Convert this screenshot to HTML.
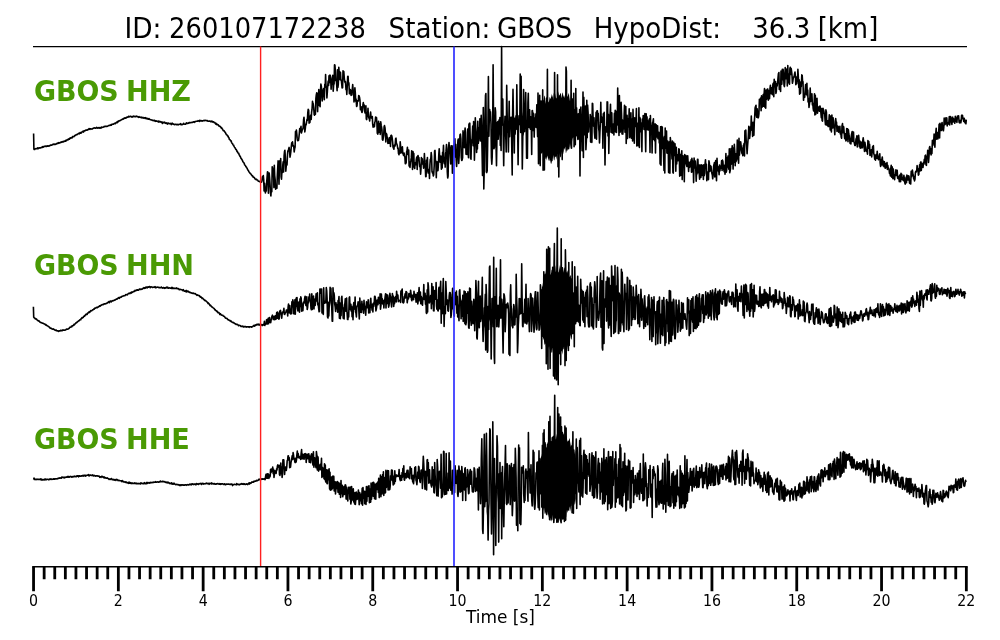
<!DOCTYPE html>
<html><head><meta charset="utf-8"><title>GBOS</title>
<style>
html,body{margin:0;padding:0;background:#fff;}
svg{display:block;}
text{font-family:"DejaVu Sans","Liberation Sans",sans-serif;fill:#000;}
.ti{font-size:28.3px;}
.lab{font-weight:bold;fill:#4a9a04;font-size:29px;}
</style></head>
<body>
<svg width="1000" height="640" viewBox="0 0 1000 640">
<rect width="1000" height="640" fill="#fff"/>
<g class="ti"><text transform="translate(124.5,37.5) scale(0.933,1)">ID:</text><text transform="translate(169.1,37.5) scale(0.911,1)">260107172238</text><text transform="translate(388.55,37.5) scale(0.925,1)">Station:</text><text transform="translate(496.9,37.5) scale(0.929,1)">GBOS</text><text transform="translate(593.7,37.5) scale(0.92,1)">HypoDist:</text><text transform="translate(752.2,37.5) scale(0.922,1)">36.3</text><text transform="translate(817.7,37.5) scale(0.918,1)">[km]</text></g>
<line x1="33" y1="46.6" x2="967" y2="46.6" stroke="#000" stroke-width="1.4"/>
<g fill="#000"><polygon points="540.0,107.2 540.6,106.7 541.2,103.4 541.8,100.8 542.4,98.1 543.0,100.5 543.6,100.1 544.2,96.2 544.8,95.6 545.4,103.9 546.0,100.5 546.6,96.6 547.2,98.2 547.8,102.8 548.4,101.9 549.0,101.3 549.6,97.0 550.2,97.7 550.8,99.2 551.4,93.4 552.0,97.6 552.6,94.8 553.2,100.0 553.8,92.5 554.4,97.8 555.0,99.2 555.6,93.2 556.2,99.1 556.8,98.8 557.4,91.2 558.0,97.4 558.6,91.0 559.2,95.5 559.8,94.9 560.4,92.8 561.0,93.9 561.6,98.3 562.2,93.8 562.8,92.3 563.4,97.3 564.0,95.0 564.6,98.2 565.2,93.2 565.8,94.2 566.4,98.8 567.0,96.4 567.6,96.6 568.2,94.4 568.8,92.7 569.4,101.2 570.0,93.8 570.6,101.5 571.2,98.1 571.8,104.3 572.4,100.2 573.0,105.9 573.6,103.4 573.6,138.4 573.0,137.5 572.4,138.9 571.8,143.3 571.2,142.7 570.6,148.9 570.0,143.0 569.4,147.5 568.8,147.4 568.2,145.8 567.6,148.7 567.0,145.7 566.4,152.3 565.8,153.1 565.2,146.5 564.6,149.9 564.0,148.1 563.4,154.5 562.8,149.2 562.2,156.8 561.6,151.2 561.0,157.0 560.4,157.5 559.8,155.1 559.2,153.6 558.6,150.3 558.0,154.3 557.4,153.9 556.8,160.1 556.2,156.2 555.6,157.2 555.0,156.2 554.4,160.6 553.8,159.7 553.2,155.1 552.6,161.3 552.0,160.9 551.4,163.7 550.8,163.4 550.2,160.2 549.6,161.0 549.0,157.8 548.4,161.3 547.8,157.4 547.2,155.5 546.6,160.7 546.0,156.7 545.4,158.9 544.8,158.9 544.2,152.7 543.6,156.5 543.0,151.8 542.4,153.0 541.8,154.0 541.2,153.0 540.6,152.6 540.0,147.2"/><polygon points="542.0,287.2 542.6,285.5 543.2,281.0 543.8,277.2 544.4,273.3 545.0,274.5 545.6,272.9 546.2,268.3 546.8,268.1 547.4,276.5 548.0,273.1 548.6,269.2 549.2,270.8 549.8,275.4 550.4,274.5 551.0,273.8 551.6,269.5 552.2,270.2 552.8,271.6 553.4,265.9 554.0,270.1 554.6,267.3 555.2,272.6 555.8,265.0 556.4,270.3 557.0,271.8 557.6,266.2 558.2,272.3 558.8,272.2 559.4,264.7 560.0,271.0 560.6,264.8 561.2,269.5 561.8,269.0 562.4,267.0 563.0,268.3 563.6,272.7 564.2,268.4 564.8,267.1 565.4,272.2 566.0,270.0 566.6,274.3 567.2,270.3 567.8,272.2 568.4,277.6 569.0,276.1 569.6,277.2 570.2,275.8 570.8,274.9 571.4,284.3 572.0,277.8 572.0,338.5 571.4,340.1 570.8,334.5 570.2,338.8 569.6,338.0 569.0,345.4 568.4,341.1 567.8,349.7 567.2,345.1 566.6,351.9 566.0,353.4 565.4,350.9 564.8,349.2 564.2,345.6 563.6,349.4 563.0,348.9 562.4,354.8 561.8,350.7 561.2,351.6 560.6,350.4 560.0,354.6 559.4,353.6 558.8,348.8 558.2,354.9 557.6,354.3 557.0,356.9 556.4,356.2 555.8,353.0 555.2,353.6 554.6,350.3 554.0,353.8 553.4,349.9 552.8,347.8 552.2,353.0 551.6,348.9 551.0,351.0 550.4,351.2 549.8,345.7 549.2,350.2 548.6,346.2 548.0,348.1 547.4,349.8 546.8,349.4 546.2,349.8 545.6,343.6 545.0,344.0 544.4,345.0 543.8,337.8 543.2,340.4 542.6,332.7 542.0,334.6"/><polygon points="541.0,457.2 541.6,456.1 542.2,452.2 542.8,449.0 543.4,445.7 544.0,447.5 544.6,446.5 545.2,442.2 545.8,441.8 546.4,449.8 547.0,446.2 547.6,441.9 548.2,443.2 548.8,447.5 549.4,446.3 550.0,445.3 550.6,440.7 551.2,441.1 551.8,442.3 552.4,436.1 553.0,440.0 553.6,436.8 554.2,441.7 554.8,433.8 555.4,438.7 556.0,439.8 556.6,433.4 557.2,438.9 557.8,438.0 558.4,430.3 559.0,436.7 559.6,430.5 560.2,435.2 560.8,434.7 561.4,432.8 562.0,434.1 562.6,438.6 563.2,434.3 563.8,433.0 564.4,438.1 565.0,436.0 565.6,439.9 566.2,435.6 566.8,437.0 567.4,442.1 568.0,440.2 568.6,440.9 569.2,439.2 569.8,437.9 570.4,447.2 571.0,440.8 571.6,448.8 572.2,445.7 572.8,452.2 573.4,448.4 574.0,454.4 574.6,452.2 575.2,450.6 575.8,456.3 575.8,498.7 575.2,503.5 574.6,504.9 574.0,500.7 573.4,500.5 572.8,499.9 572.2,501.5 571.6,506.1 571.0,505.7 570.4,512.0 569.8,506.2 569.2,510.9 568.6,511.1 568.0,509.7 567.4,512.9 566.8,510.1 566.2,517.0 565.6,518.0 565.0,511.7 564.4,515.0 563.8,513.1 563.2,519.4 562.6,514.1 562.0,521.6 561.4,516.0 560.8,521.7 560.2,522.2 559.6,519.8 559.0,518.2 558.4,514.8 557.8,518.6 557.2,517.6 556.6,523.2 556.0,518.6 555.4,519.1 554.8,517.5 554.2,521.4 553.6,519.9 553.0,514.7 552.4,520.4 551.8,519.4 551.2,521.4 550.6,520.5 550.0,517.1 549.4,517.6 548.8,514.1 548.2,517.5 547.6,513.4 547.0,511.2 546.4,516.2 545.8,512.0 545.2,513.9 544.6,513.5 544.0,507.2 543.4,511.0 542.8,506.1 542.2,507.3 541.6,508.2 541.0,507.1"/></g>
<g fill="none" stroke="#000" stroke-width="1.6" stroke-linejoin="round">
<path d="M33.6 133.6L33.9 149.2L34.3 149.5L34.7 149.4L35.2 148.8L35.6 148.7L36.0 148.6L36.4 148.8L36.9 148.5L37.3 148.7L37.7 147.8L38.1 148.7L38.6 148.1L39.0 148.3L39.4 147.9L39.8 147.8L40.3 147.9L40.7 147.9L41.1 147.5L41.5 147.4L42.0 147.6L42.4 147.0L42.8 146.7L43.2 147.2L43.7 146.8L44.1 146.3L44.5 146.5L44.9 146.5L45.3 146.2L45.8 146.0L46.2 146.4L46.6 146.5L47.0 146.1L47.5 145.8L47.9 146.1L48.3 146.1L48.7 145.7L49.2 145.8L49.6 145.9L50.0 145.4L50.4 145.1L50.9 145.3L51.3 145.2L51.7 145.3L52.1 144.5L52.6 144.6L53.0 144.4L53.4 144.0L53.8 144.5L54.3 144.5L54.7 144.0L55.1 144.5L55.5 144.2L55.9 144.0L56.4 143.8L56.8 143.9L57.2 143.1L57.6 143.5L58.1 143.4L58.5 142.6L58.9 143.1L59.3 142.8L59.8 142.9L60.2 142.4L60.6 142.4L61.0 142.4L61.5 141.9L61.9 142.2L62.3 141.8L62.7 141.9L63.2 141.4L63.6 141.8L64.0 141.5L64.4 141.1L64.9 141.1L65.3 141.2L65.7 141.2L66.1 140.0L66.5 140.5L67.0 140.2L67.4 139.9L67.8 139.4L68.2 139.8L68.7 138.9L69.1 139.2L69.5 139.2L69.9 138.1L70.4 138.2L70.8 137.7L71.2 137.9L71.6 138.0L72.1 137.9L72.5 136.5L72.9 136.6L73.3 136.8L73.8 136.8L74.2 136.2L74.6 135.6L75.0 135.7L75.5 135.3L75.9 135.0L76.3 134.6L76.7 134.8L77.1 134.5L77.6 134.2L78.0 133.9L78.4 133.4L78.8 133.5L79.3 133.8L79.7 133.1L80.1 132.5L80.5 133.2L81.0 132.7L81.4 133.0L81.8 132.2L82.2 131.8L82.7 131.3L83.1 131.9L83.5 132.1L83.9 130.9L84.4 130.8L84.8 131.0L85.2 130.3L85.6 130.3L86.1 130.1L86.5 130.1L86.9 130.3L87.3 129.8L87.7 129.9L88.2 129.4L88.6 129.5L89.0 128.6L89.4 128.7L89.9 129.3L90.3 128.8L90.7 129.0L91.1 128.9L91.6 129.1L92.0 128.9L92.4 128.9L92.8 128.4L93.3 128.2L93.7 128.1L94.1 128.2L94.5 127.9L95.0 128.0L95.4 128.1L95.8 128.2L96.2 127.9L96.7 127.4L97.1 127.9L97.5 128.0L97.9 128.2L98.3 128.0L98.8 127.5L99.2 127.5L99.6 128.2L100.0 127.8L100.5 128.0L100.9 128.1L101.3 127.1L101.7 127.4L102.2 127.4L102.6 127.3L103.0 127.2L103.4 127.0L103.9 126.9L104.3 126.3L104.7 126.6L105.1 126.4L105.6 126.5L106.0 126.3L106.4 126.5L106.8 126.4L107.3 126.2L107.7 126.1L108.1 125.9L108.5 125.6L108.9 125.6L109.4 125.3L109.8 125.5L110.2 125.2L110.6 125.3L111.1 124.5L111.5 125.1L111.9 124.4L112.3 124.3L112.8 124.3L113.2 124.0L113.6 124.1L114.0 123.7L114.5 123.4L114.9 123.3L115.3 123.7L115.7 123.1L116.2 122.5L116.6 122.6L117.0 121.9L117.4 122.6L117.9 121.3L118.3 121.7L118.7 121.4L119.1 120.6L119.5 120.8L120.0 120.8L120.4 120.4L120.8 120.1L121.2 120.0L121.7 119.6L122.1 119.5L122.5 119.1L122.9 119.2L123.4 118.5L123.8 118.8L124.2 118.2L124.6 117.9L125.1 118.1L125.5 118.3L125.9 118.0L126.3 117.4L126.8 117.6L127.2 117.1L127.6 117.1L128.0 117.1L128.5 116.3L128.9 117.0L129.3 116.6L129.7 116.6L130.1 116.3L130.6 116.3L131.0 116.4L131.4 116.9L131.8 117.1L132.3 116.6L132.7 116.9L133.1 116.5L133.5 116.0L134.0 116.6L134.4 116.6L134.8 116.4L135.2 116.6L135.7 116.7L136.1 116.3L136.5 116.1L136.9 116.5L137.4 116.6L137.8 116.6L138.2 117.0L138.6 117.3L139.1 116.7L139.5 117.1L139.9 117.3L140.3 117.3L140.7 117.5L141.2 117.1L141.6 117.5L142.0 118.0L142.4 117.7L142.9 117.3L143.3 117.8L143.7 118.1L144.1 117.9L144.6 117.7L145.0 118.5L145.4 117.7L145.8 118.4L146.3 118.3L146.7 118.1L147.1 119.0L147.5 118.8L148.0 118.5L148.4 119.2L148.8 119.0L149.2 118.7L149.7 119.2L150.1 119.6L150.5 119.8L150.9 119.8L151.3 119.9L151.8 120.1L152.2 120.0L152.6 120.5L153.0 120.3L153.5 120.5L153.9 120.7L154.3 120.3L154.7 120.5L155.2 121.3L155.6 121.0L156.0 120.9L156.4 121.2L156.9 121.1L157.3 121.4L157.7 121.2L158.1 121.6L158.6 121.1L159.0 122.1L159.4 121.6L159.8 121.4L160.3 121.9L160.7 121.9L161.1 122.2L161.5 121.9L161.9 122.4L162.4 123.5L162.8 122.1L163.2 122.6L163.6 122.5L164.1 122.8L164.5 122.2L164.9 122.5L165.3 123.1L165.8 123.0L166.2 123.5L166.6 122.9L167.0 123.2L167.5 124.1L167.9 123.1L168.3 123.1L168.7 123.4L169.2 123.5L169.6 123.8L170.0 123.6L170.4 123.4L170.9 123.8L171.3 124.6L171.7 124.2L172.1 123.0L172.5 123.9L173.0 123.7L173.4 124.2L173.8 124.0L174.2 124.7L174.7 124.5L175.1 124.5L175.5 124.3L175.9 124.3L176.4 124.5L176.8 124.8L177.2 124.6L177.6 124.3L178.1 124.8L178.5 124.5L178.9 124.5L179.3 124.3L179.8 124.3L180.2 124.3L180.6 123.6L181.0 124.7L181.5 124.6L181.9 124.3L182.3 124.6L182.7 124.4L183.1 124.3L183.6 123.3L184.0 123.9L184.4 124.1L184.8 124.3L185.3 124.3L185.7 124.1L186.1 123.2L186.5 122.8L187.0 123.5L187.4 123.3L187.8 123.5L188.2 123.0L188.7 123.1L189.1 122.5L189.5 123.0L189.9 122.6L190.4 122.8L190.8 122.7L191.2 122.5L191.6 122.5L192.1 122.3L192.5 122.4L192.9 122.3L193.3 121.9L193.7 121.7L194.2 122.3L194.6 121.7L195.0 121.9L195.4 121.7L195.9 121.3L196.3 121.2L196.7 121.3L197.1 121.3L197.6 121.3L198.0 120.7L198.4 120.9L198.8 121.0L199.3 121.4L199.7 120.2L200.1 121.0L200.5 120.6L201.0 120.9L201.4 120.6L201.8 120.8L202.2 121.1L202.7 120.7L203.1 120.7L203.5 120.7L203.9 120.3L204.3 120.7L204.8 120.4L205.2 120.3L205.6 120.5L206.0 120.5L206.5 120.8L206.9 120.6L207.3 120.5L207.7 121.2L208.2 121.1L208.6 121.3L209.0 121.1L209.4 121.0L209.9 121.0L210.3 121.2L210.7 121.7L211.1 121.5L211.6 121.1L212.0 121.7L212.4 121.4L212.8 122.1L213.3 121.8L213.7 122.0L214.1 122.6L214.5 122.8L214.9 122.5L215.4 123.5L215.8 124.2L216.2 123.4L216.6 124.6L217.1 124.2L217.5 124.5L217.9 124.9L218.3 124.8L218.8 126.0L219.2 126.1L219.6 126.0L220.0 126.6L220.5 126.6L220.9 127.4L221.3 128.2L221.7 127.8L222.2 128.7L222.6 129.3L223.0 130.1L223.4 130.7L223.9 130.6L224.3 131.0L224.7 131.9L225.1 132.2L225.5 132.8L226.0 133.8L226.4 134.6L226.8 134.8L227.2 135.3L227.7 136.2L228.1 136.1L228.5 137.4L228.9 137.7L229.4 139.4L229.8 139.6L230.2 140.1L230.6 140.7L231.1 140.7L231.5 142.3L231.9 143.2L232.3 143.2L232.8 144.3L233.2 145.0L233.6 145.0L234.0 146.4L234.5 147.2L234.9 147.6L235.3 148.2L235.7 149.2L236.1 149.2L236.6 150.4L237.0 151.4L237.4 151.4L237.8 152.8L238.3 153.1L238.7 153.3L239.1 154.7L239.5 155.2L240.0 156.3L240.4 156.6L240.8 158.0L241.2 158.3L241.7 159.3L242.1 159.8L242.5 160.6L242.9 161.8L243.4 162.3L243.8 162.8L244.2 163.3L244.6 164.7L245.1 165.3L245.5 165.7L245.9 166.6L246.3 167.0L246.7 167.7L247.2 168.5L247.6 169.5L248.0 170.2L248.4 170.6L248.9 171.6L249.3 172.3L249.7 172.7L250.1 173.5L250.6 173.6L251.0 174.2L251.4 174.9L251.8 175.3L252.3 176.0L252.7 175.9L253.1 177.1L253.5 176.9L254.0 177.5L254.4 177.6L254.8 178.5L255.2 179.1L255.7 179.3L256.1 179.6L256.5 179.2L256.9 179.8L257.3 180.1L257.8 180.3L258.2 181.2L258.6 181.2L259.0 181.3L259.5 181.7L259.9 181.5L260.3 181.7L260.7 181.7L261.2 182.1L261.6 182.1L262.0 180.6L262.4 176.8L262.9 177.5L263.3 175.5L263.7 179.6L264.1 190.9L264.6 183.2L265.0 188.4L265.4 192.9L265.8 189.4L266.3 191.0L266.7 182.1L267.1 177.1L267.5 171.8L267.9 172.3L268.4 193.3L268.8 174.8L269.2 173.1L269.6 177.8L270.1 185.4L270.5 193.2L270.9 195.9L271.3 189.2L271.8 191.8L272.2 166.8L272.6 168.2L273.0 172.6L273.5 170.0L273.9 187.6L274.3 165.3L274.7 175.6L275.2 180.1L275.6 189.3L276.0 187.0L276.4 186.7L276.9 188.2L277.3 176.2L277.7 168.3L278.1 160.7L278.5 166.9L279.0 184.3L279.4 165.9L279.8 160.8L280.2 166.9L280.7 158.5L281.1 176.8L281.5 179.2L281.9 171.5L282.4 172.5L282.8 165.2L283.2 161.7L283.6 172.0L284.1 155.9L284.5 151.6L284.9 150.3L285.3 156.3L285.8 171.1L286.2 166.5L286.6 162.2L287.0 164.9L287.5 154.7L287.9 150.7L288.3 151.0L288.7 148.8L289.1 147.4L289.6 151.5L290.0 157.1L290.4 154.9L290.8 151.8L291.3 146.6L291.7 142.8L292.1 144.4L292.5 141.8L293.0 146.1L293.4 145.6L293.8 147.1L294.2 152.0L294.7 148.5L295.1 147.1L295.5 131.6L295.9 132.2L296.4 130.0L296.8 133.9L297.2 138.4L297.6 140.6L298.1 139.9L298.5 140.5L298.9 137.5L299.3 133.6L299.7 128.5L300.2 131.6L300.6 129.0L301.0 126.4L301.4 132.9L301.9 131.3L302.3 129.6L302.7 129.2L303.1 128.0L303.6 119.6L304.0 117.2L304.4 123.3L304.8 131.9L305.3 128.6L305.7 124.3L306.1 124.8L306.5 122.6L307.0 119.3L307.4 120.2L307.8 112.6L308.2 109.3L308.7 110.4L309.1 123.2L309.5 120.9L309.9 122.5L310.3 116.4L310.8 115.0L311.2 119.4L311.6 112.2L312.0 109.7L312.5 101.3L312.9 103.3L313.3 104.6L313.7 107.8L314.2 114.6L314.6 115.2L315.0 113.1L315.4 114.3L315.9 98.3L316.3 94.8L316.7 92.8L317.1 93.3L317.6 111.6L318.0 99.4L318.4 100.7L318.8 89.6L319.3 105.4L319.7 101.2L320.1 106.7L320.5 90.7L320.9 84.1L321.4 86.7L321.8 95.1L322.2 101.0L322.6 95.5L323.1 90.3L323.5 88.6L323.9 91.4L324.3 99.6L324.8 84.2L325.2 87.3L325.6 74.5L326.0 86.4L326.5 86.3L326.9 97.9L327.3 92.7L327.7 86.0L328.2 81.0L328.6 85.5L329.0 75.9L329.4 82.7L329.9 75.1L330.3 75.6L330.7 78.3L331.1 89.2L331.5 81.9L332.0 83.9L332.4 78.2L332.8 75.4L333.2 91.3L333.7 84.2L334.1 84.1L334.5 64.9L334.9 65.0L335.4 71.2L335.8 80.8L336.2 80.0L336.6 83.6L337.1 90.7L337.5 69.8L337.9 87.5L338.3 84.4L338.8 67.3L339.2 73.0L339.6 71.6L340.0 79.7L340.5 72.6L340.9 80.3L341.3 80.0L341.7 83.8L342.1 87.9L342.6 87.8L343.0 70.7L343.4 74.8L343.8 71.5L344.3 78.3L344.7 81.6L345.1 82.5L345.5 81.7L346.0 89.8L346.4 88.0L346.8 94.4L347.2 87.0L347.7 76.5L348.1 76.3L348.5 84.8L348.9 82.8L349.4 93.7L349.8 93.6L350.2 89.6L350.6 90.0L351.1 95.4L351.5 94.6L351.9 94.8L352.3 89.0L352.7 84.6L353.2 91.1L353.6 90.7L354.0 102.0L354.4 93.9L354.9 87.7L355.3 92.6L355.7 101.1L356.1 99.1L356.6 106.5L357.0 105.9L357.4 100.7L357.8 100.9L358.3 101.0L358.7 95.5L359.1 95.9L359.5 97.2L360.0 100.7L360.4 109.8L360.8 108.5L361.2 106.8L361.7 111.9L362.1 112.4L362.5 111.0L362.9 105.2L363.3 102.5L363.8 106.0L364.2 105.0L364.6 109.6L365.0 112.9L365.5 111.8L365.9 105.8L366.3 119.0L366.7 119.6L367.2 112.5L367.6 115.5L368.0 108.4L368.4 116.2L368.9 118.0L369.3 118.7L369.7 121.0L370.1 116.0L370.6 112.1L371.0 116.5L371.4 117.9L371.8 118.3L372.3 116.6L372.7 124.2L373.1 127.2L373.5 126.1L373.9 124.6L374.4 126.8L374.8 122.4L375.2 121.3L375.6 117.0L376.1 120.4L376.5 117.6L376.9 122.6L377.3 133.2L377.8 134.2L378.2 132.2L378.6 121.4L379.0 132.1L379.5 127.6L379.9 123.7L380.3 134.4L380.7 121.7L381.2 125.4L381.6 127.4L382.0 130.2L382.4 139.5L382.9 140.2L383.3 137.7L383.7 135.4L384.1 126.8L384.5 125.6L385.0 127.9L385.4 132.5L385.8 141.9L386.2 133.4L386.7 134.1L387.1 137.5L387.5 137.4L387.9 143.4L388.4 139.7L388.8 139.2L389.2 143.3L389.6 137.5L390.1 138.2L390.5 146.5L390.9 135.6L391.3 135.2L391.8 136.0L392.2 138.2L392.6 141.8L393.0 146.9L393.5 148.2L393.9 149.2L394.3 145.4L394.7 146.3L395.1 145.9L395.6 138.7L396.0 138.2L396.4 143.3L396.8 143.9L397.3 145.5L397.7 148.3L398.1 148.0L398.5 153.5L399.0 154.7L399.4 151.3L399.8 153.3L400.2 141.8L400.7 147.5L401.1 153.0L401.5 147.7L401.9 149.9L402.4 146.7L402.8 153.3L403.2 154.0L403.6 155.5L404.1 153.1L404.5 155.4L404.9 157.1L405.3 163.8L405.7 163.7L406.2 162.5L406.6 152.1L407.0 150.8L407.4 147.4L407.9 154.5L408.3 154.3L408.7 150.1L409.1 166.1L409.6 162.8L410.0 167.4L410.4 162.5L410.8 160.7L411.3 157.9L411.7 150.9L412.1 154.2L412.5 169.4L413.0 151.5L413.4 154.9L413.8 153.6L414.2 167.2L414.7 168.5L415.1 162.8L415.5 162.8L415.9 164.6L416.3 159.4L416.8 157.0L417.2 169.4L417.6 157.5L418.0 155.5L418.5 158.0L418.9 157.6L419.3 162.6L419.7 166.7L420.2 165.2L420.6 174.1L421.0 168.8L421.4 157.5L421.9 162.7L422.3 158.9L422.7 164.1L423.1 162.9L423.6 168.2L424.0 163.9L424.4 153.5L424.8 162.4L425.3 167.5L425.7 176.6L426.1 176.6L426.5 160.0L426.9 164.6L427.4 157.5L427.8 171.1L428.2 173.0L428.6 171.8L429.1 169.2L429.5 178.4L429.9 165.1L430.3 159.4L430.8 159.0L431.2 152.6L431.6 156.2L432.0 171.5L432.5 172.9L432.9 172.3L433.3 175.9L433.7 174.7L434.2 165.9L434.6 151.0L435.0 150.4L435.4 159.8L435.9 161.7L436.3 177.8L436.7 162.3L437.1 161.9L437.5 170.8L438.0 170.5L438.4 164.3L438.8 154.2L439.2 148.9L439.7 156.7L440.1 162.1L440.5 162.1L440.9 156.0L441.4 169.2L441.8 156.8L442.2 167.9L442.6 152.2L443.1 153.8L443.5 145.4L443.9 161.3L444.3 163.6L444.8 157.4L445.2 167.1L445.6 153.7L446.0 151.4L446.5 144.5L446.9 149.4L447.3 171.9L447.7 178.0L448.1 176.1L448.6 148.0L449.0 142.5L449.4 149.0L449.8 147.4L450.3 157.3L450.7 163.9L451.1 145.8L451.5 152.9L452.0 145.9L452.4 173.3L452.8 160.4L453.2 153.9L453.7 145.2L454.1 147.8L454.5 141.7L454.9 138.7L455.4 157.1L455.8 144.3L456.2 159.7L456.6 166.4L457.1 157.5L457.5 150.4L457.9 140.7L458.3 139.0L458.7 163.5L459.2 155.4L459.6 142.1L460.0 134.7L460.4 134.2L460.9 138.9L461.3 157.4L461.7 160.5L462.1 160.2L462.6 157.6L463.0 130.9L463.4 136.3L463.8 140.4L464.3 147.7L464.7 132.7L465.1 128.0L465.5 132.3L466.0 154.2L466.4 145.2L466.8 154.5L467.2 153.8L467.7 129.0L468.1 151.3L468.5 157.7L468.9 124.5L469.3 123.5L469.8 123.2L470.2 138.6L470.6 158.4L471.0 159.2L471.5 139.7L471.9 142.6L472.3 135.2L472.7 126.1L473.2 145.8L473.6 121.6L474.0 128.6L474.4 160.3L474.9 143.3L475.3 117.8L475.7 127.4L476.1 132.4L476.6 152.5L477.0 141.6L477.4 149.0L477.8 121.3L478.3 143.3L478.7 139.4L479.1 127.6L479.5 137.4L479.9 118.8L480.4 141.0L480.8 131.9L481.2 115.4L481.6 128.9L482.1 153.2L482.5 175.4L482.9 141.5L483.3 107.6L483.8 189.0L484.2 171.2L484.6 172.1L485.0 119.3L485.5 95.4L485.9 93.5L486.3 139.1L486.7 172.6L487.2 170.8L487.6 149.0L488.0 122.2L488.4 76.5L488.9 136.3L489.3 117.6L489.7 109.5L490.1 115.4L490.5 111.9L491.0 124.1L491.4 157.5L491.8 164.3L492.2 156.9L492.7 128.4L493.1 64.7L493.5 116.5L493.9 148.8L494.4 147.4L494.8 138.0L495.2 107.8L495.6 111.9L496.1 148.7L496.5 165.7L496.9 139.9L497.3 122.5L497.8 121.6L498.2 139.3L498.6 133.1L499.0 120.1L499.5 132.6L499.9 117.5L500.3 145.5L500.7 138.8L501.1 150.5L501.6 46.5L502.0 125.1L502.4 101.8L502.8 99.1L503.3 139.7L503.7 165.8L504.1 137.4L504.5 129.7L505.0 116.2L505.4 117.6L505.8 137.8L506.2 152.0L506.7 85.4L507.1 111.5L507.5 132.2L507.9 125.8L508.4 152.0L508.8 126.5L509.2 101.3L509.6 136.8L510.1 122.4L510.5 123.4L510.9 117.3L511.3 117.4L511.7 144.1L512.2 175.0L512.6 114.8L513.0 89.4L513.4 115.6L513.9 125.4L514.3 152.9L514.7 118.3L515.1 134.1L515.6 124.2L516.0 115.9L516.4 129.1L516.8 84.7L517.3 123.6L517.7 130.6L518.1 164.7L518.5 127.8L519.0 115.9L519.4 116.3L519.8 124.5L520.2 74.0L520.7 132.4L521.1 76.2L521.5 111.8L521.9 119.2L522.3 168.9L522.8 136.0L523.2 133.8L523.6 89.5L524.0 114.6L524.5 131.6L524.9 122.1L525.3 108.7L525.7 92.5L526.2 125.3L526.6 158.2L527.0 156.3L527.4 158.3L527.9 103.0L528.3 93.3L528.7 120.1L529.1 127.4L529.6 109.7L530.0 126.8L530.4 129.1L530.8 116.8L531.3 125.5L531.7 154.5L532.1 110.7L532.5 110.6L532.9 130.4L533.4 113.3L533.8 114.6L534.2 137.1L534.6 120.5L535.1 117.9L535.5 126.9L535.9 113.8L536.3 127.5L536.8 104.8L537.2 122.3L537.6 136.6L538.0 93.0L538.5 163.7L538.9 122.1L539.3 146.3L539.7 95.4L540.2 165.6L540.6 117.9L541.0 101.0L541.4 142.0L541.9 124.9L542.3 132.2L542.7 89.9L543.1 170.2L543.5 112.0L544.0 112.1L544.4 169.9L544.8 116.3L545.2 112.0L545.7 145.8L546.1 144.1L546.5 98.3L546.9 147.2L547.4 69.4L547.8 152.3L548.2 105.6L548.6 130.0L549.1 157.2L549.5 118.7L549.9 113.7L550.3 135.5L550.8 149.0L551.2 121.4L551.6 102.8L552.0 150.3L552.5 150.1L552.9 105.7L553.3 116.9L553.7 146.1L554.1 150.7L554.6 72.6L555.0 138.6L555.4 148.6L555.8 98.7L556.3 114.2L556.7 146.4L557.1 150.5L557.5 74.8L558.0 166.8L558.4 103.4L558.8 177.0L559.2 142.1L559.7 105.3L560.1 97.6L560.5 141.4L560.9 126.7L561.4 110.5L561.8 111.8L562.2 159.6L562.6 106.4L563.1 131.1L563.5 128.1L563.9 137.3L564.3 100.4L564.7 128.8L565.2 101.8L565.6 134.0L566.0 67.0L566.4 71.3L566.9 150.0L567.3 142.1L567.7 102.8L568.1 127.8L568.6 148.8L569.0 101.7L569.4 140.2L569.8 113.2L570.3 116.7L570.7 140.7L571.1 80.3L571.5 148.3L572.0 98.8L572.4 126.6L572.8 131.2L573.2 136.2L573.7 93.2L574.1 146.7L574.5 112.0L574.9 109.9L575.3 144.7L575.8 88.5L576.2 135.8L576.6 107.9L577.0 125.5L577.5 134.7L577.9 139.5L578.3 113.8L578.7 131.0L579.2 138.6L579.6 109.5L580.0 176.0L580.4 115.3L580.9 107.0L581.3 120.5L581.7 136.3L582.1 150.8L582.6 125.7L583.0 92.0L583.4 157.5L583.8 97.2L584.3 119.6L584.7 113.1L585.1 135.0L585.5 106.1L585.9 149.7L586.4 139.6L586.8 100.4L587.2 137.8L587.6 105.1L588.1 113.2L588.5 132.0L588.9 124.4L589.3 124.2L589.8 126.4L590.2 114.5L590.6 142.1L591.0 116.4L591.5 134.4L591.9 142.4L592.3 103.4L592.7 103.7L593.2 122.4L593.6 126.2L594.0 117.8L594.4 132.3L594.9 138.2L595.3 130.8L595.7 124.1L596.1 112.2L596.5 139.3L597.0 110.7L597.4 110.8L597.8 117.5L598.2 113.3L598.7 128.6L599.1 131.7L599.5 143.0L599.9 132.6L600.4 122.4L600.8 102.2L601.2 122.1L601.6 117.5L602.1 117.4L602.5 120.0L602.9 148.3L603.3 113.7L603.8 127.3L604.2 112.3L604.6 128.8L605.0 165.0L605.5 131.4L605.9 126.7L606.3 129.2L606.7 131.9L607.1 101.9L607.6 102.1L608.0 135.9L608.4 114.3L608.8 153.5L609.3 125.6L609.7 121.3L610.1 113.9L610.5 104.3L611.0 132.3L611.4 123.7L611.8 112.9L612.2 133.1L612.7 125.1L613.1 130.9L613.5 123.9L613.9 135.0L614.4 113.4L614.8 117.0L615.2 110.3L615.6 132.0L616.1 111.4L616.5 132.5L616.9 118.8L617.3 125.1L617.7 88.0L618.2 124.8L618.6 118.7L619.0 135.4L619.4 95.5L619.9 132.1L620.3 132.0L620.7 116.1L621.1 102.4L621.6 115.2L622.0 134.0L622.4 119.9L622.8 134.1L623.3 126.3L623.7 128.7L624.1 116.6L624.5 105.3L625.0 132.2L625.4 124.4L625.8 106.6L626.2 143.4L626.7 128.2L627.1 115.4L627.5 138.4L627.9 118.9L628.3 126.9L628.8 121.7L629.2 108.7L629.6 137.6L630.0 119.0L630.5 135.9L630.9 112.7L631.3 138.3L631.7 119.9L632.2 118.8L632.6 141.0L633.0 109.4L633.4 125.2L633.9 117.8L634.3 143.3L634.7 117.7L635.1 126.1L635.6 126.4L636.0 122.6L636.4 108.6L636.8 146.0L637.3 125.3L637.7 123.3L638.1 145.8L638.5 144.3L638.9 107.7L639.4 147.5L639.8 117.4L640.2 118.7L640.6 131.8L641.1 129.8L641.5 123.0L641.9 151.6L642.3 119.1L642.8 126.5L643.2 115.5L643.6 115.9L644.0 129.5L644.5 121.2L644.9 113.5L645.3 132.8L645.7 151.7L646.2 113.7L646.6 129.4L647.0 116.7L647.4 129.8L647.9 121.0L648.3 129.9L648.7 123.6L649.1 119.8L649.5 118.9L650.0 152.4L650.4 115.6L650.8 129.5L651.2 125.2L651.7 125.7L652.1 153.0L652.5 122.9L652.9 122.1L653.4 118.8L653.8 139.5L654.2 126.4L654.6 140.7L655.1 123.7L655.5 152.9L655.9 125.3L656.3 124.8L656.8 136.9L657.2 130.9L657.6 125.7L658.0 138.7L658.5 137.2L658.9 132.3L659.3 143.0L659.7 139.2L660.1 163.9L660.6 126.7L661.0 165.3L661.4 126.5L661.8 134.2L662.3 127.0L662.7 148.7L663.1 137.9L663.5 153.0L664.0 170.5L664.4 136.3L664.8 172.9L665.2 128.1L665.7 148.2L666.1 135.2L666.5 131.1L666.9 153.1L667.4 153.0L667.8 141.0L668.2 144.1L668.6 172.6L669.1 143.6L669.5 141.7L669.9 173.2L670.3 137.6L670.7 141.4L671.2 143.7L671.6 150.4L672.0 159.0L672.4 141.1L672.9 172.3L673.3 173.1L673.7 142.2L674.1 155.5L674.6 145.6L675.0 143.8L675.4 154.5L675.8 171.2L676.3 147.3L676.7 163.9L677.1 154.6L677.5 158.5L678.0 160.8L678.4 155.2L678.8 148.8L679.2 149.4L679.7 176.3L680.1 159.7L680.5 154.5L680.9 175.2L681.3 156.1L681.8 150.7L682.2 179.6L682.6 160.3L683.0 155.9L683.5 164.1L683.9 158.0L684.3 181.7L684.7 154.6L685.2 161.6L685.6 163.4L686.0 155.5L686.4 164.6L686.9 166.5L687.3 157.7L687.7 155.7L688.1 162.5L688.6 171.5L689.0 162.5L689.4 167.5L689.8 163.3L690.3 161.7L690.7 166.7L691.1 159.7L691.5 172.3L691.9 158.3L692.4 162.9L692.8 172.0L693.2 161.6L693.6 182.6L694.1 158.0L694.5 162.9L694.9 168.0L695.3 161.0L695.8 169.7L696.2 181.2L696.6 171.8L697.0 174.0L697.5 159.2L697.9 159.2L698.3 172.6L698.7 164.9L699.2 173.2L699.6 179.3L700.0 165.1L700.4 167.9L700.9 177.5L701.3 164.8L701.7 175.0L702.1 175.3L702.5 165.3L703.0 168.0L703.4 179.5L703.8 164.7L704.2 175.7L704.7 173.4L705.1 163.5L705.5 159.7L705.9 167.9L706.4 164.4L706.8 180.7L707.2 174.2L707.6 172.5L708.1 171.8L708.5 179.6L708.9 160.7L709.3 162.6L709.8 171.4L710.2 165.5L710.6 167.4L711.0 166.2L711.5 171.2L711.9 173.4L712.3 174.7L712.7 178.8L713.1 175.3L713.6 166.4L714.0 164.8L714.4 162.6L714.8 176.9L715.3 169.8L715.7 160.6L716.1 170.0L716.5 180.7L717.0 158.4L717.4 167.3L717.8 166.4L718.2 170.9L718.7 169.7L719.1 174.8L719.5 165.1L719.9 170.9L720.4 166.6L720.8 168.3L721.2 167.7L721.6 160.9L722.1 170.5L722.5 160.1L722.9 161.5L723.3 166.7L723.7 168.9L724.2 171.7L724.6 165.4L725.0 174.1L725.4 168.7L725.9 153.6L726.3 172.1L726.7 170.0L727.1 157.7L727.6 166.9L728.0 156.1L728.4 166.6L728.8 169.2L729.3 148.9L729.7 172.7L730.1 171.1L730.5 168.9L731.0 148.5L731.4 164.2L731.8 159.5L732.2 145.7L732.7 156.0L733.1 169.1L733.5 147.9L733.9 162.3L734.3 144.4L734.8 151.8L735.2 165.8L735.6 153.5L736.0 161.6L736.5 160.0L736.9 157.5L737.3 140.1L737.7 150.0L738.2 158.3L738.6 163.3L739.0 138.4L739.4 155.1L739.9 150.1L740.3 142.3L740.7 141.8L741.1 145.4L741.6 150.8L742.0 153.7L742.4 148.3L742.8 155.7L743.3 145.7L743.7 144.7L744.1 143.4L744.5 156.0L744.9 130.9L745.4 139.8L745.8 130.1L746.2 140.8L746.6 145.4L747.1 153.6L747.5 147.0L747.9 141.6L748.3 136.7L748.8 126.2L749.2 135.3L749.6 138.5L750.0 134.9L750.5 126.8L750.9 128.6L751.3 116.1L751.7 130.2L752.2 125.4L752.6 136.5L753.0 122.2L753.4 130.1L753.9 135.2L754.3 121.6L754.7 116.7L755.1 107.9L755.5 106.6L756.0 105.3L756.4 115.3L756.8 117.3L757.2 108.8L757.7 114.4L758.1 117.9L758.5 117.2L758.9 114.0L759.4 99.4L759.8 100.0L760.2 102.1L760.6 98.0L761.1 110.7L761.5 95.9L761.9 107.4L762.3 106.7L762.8 105.7L763.2 94.5L763.6 106.2L764.0 95.5L764.5 88.6L764.9 107.2L765.3 96.1L765.7 108.2L766.1 90.1L766.6 99.3L767.0 93.0L767.4 89.0L767.8 89.0L768.3 100.2L768.7 90.7L769.1 93.7L769.5 98.8L770.0 88.3L770.4 85.4L770.8 89.2L771.2 93.8L771.7 87.9L772.1 89.9L772.5 94.8L772.9 84.1L773.4 83.2L773.8 96.8L774.2 79.2L774.6 84.6L775.1 86.8L775.5 81.6L775.9 93.4L776.3 91.9L776.7 83.8L777.2 85.9L777.6 82.6L778.0 78.1L778.4 73.8L778.9 72.5L779.3 89.5L779.7 86.1L780.1 84.6L780.6 91.4L781.0 71.0L781.4 77.7L781.8 84.2L782.3 69.2L782.7 79.8L783.1 69.4L783.5 73.3L784.0 85.2L784.4 86.6L784.8 82.5L785.2 67.5L785.7 72.9L786.1 78.6L786.5 78.6L786.9 69.0L787.3 85.9L787.8 65.5L788.2 82.6L788.6 73.8L789.0 78.0L789.5 84.3L789.9 68.7L790.3 67.2L790.7 74.4L791.2 68.6L791.6 71.5L792.0 75.2L792.4 83.3L792.9 81.0L793.3 77.3L793.7 77.0L794.1 76.9L794.6 73.6L795.0 72.0L795.4 76.0L795.8 84.8L796.3 77.1L796.7 83.6L797.1 79.0L797.5 81.1L797.9 69.3L798.4 78.4L798.8 87.5L799.2 79.9L799.6 94.3L800.1 82.0L800.5 93.2L800.9 84.4L801.3 86.5L801.8 74.9L802.2 75.4L802.6 82.0L803.0 81.7L803.5 100.3L803.9 96.1L804.3 95.4L804.7 97.2L805.2 89.9L805.6 84.5L806.0 93.3L806.4 94.3L806.9 83.2L807.3 95.6L807.7 90.1L808.1 101.9L808.5 98.2L809.0 107.4L809.4 104.4L809.8 100.3L810.2 88.0L810.7 101.4L811.1 99.2L811.5 98.1L811.9 93.7L812.4 104.9L812.8 103.2L813.2 108.7L813.6 110.9L814.1 104.1L814.5 93.7L814.9 115.0L815.3 95.2L815.8 114.3L816.2 106.1L816.6 107.9L817.0 98.3L817.5 113.3L817.9 108.8L818.3 110.8L818.7 107.2L819.1 106.6L819.6 111.3L820.0 106.0L820.4 108.2L820.8 111.9L821.3 117.8L821.7 108.5L822.1 120.5L822.5 121.1L823.0 108.3L823.4 109.5L823.8 111.0L824.2 113.3L824.7 114.1L825.1 121.0L825.5 124.7L825.9 109.8L826.4 112.1L826.8 125.1L827.2 120.8L827.6 120.7L828.1 126.4L828.5 126.5L828.9 120.7L829.3 114.8L829.7 119.4L830.2 130.0L830.6 116.0L831.0 124.1L831.4 131.9L831.9 115.1L832.3 126.8L832.7 127.9L833.1 117.8L833.6 125.8L834.0 126.4L834.4 128.7L834.8 134.6L835.3 121.1L835.7 118.6L836.1 122.5L836.5 122.0L837.0 131.4L837.4 125.7L837.8 127.5L838.2 126.5L838.7 132.3L839.1 127.7L839.5 128.8L839.9 126.2L840.3 133.9L840.8 131.5L841.2 137.1L841.6 138.3L842.0 125.9L842.5 123.6L842.9 132.6L843.3 126.5L843.7 126.8L844.2 133.0L844.6 138.3L845.0 138.9L845.4 133.7L845.9 140.9L846.3 140.2L846.7 128.6L847.1 134.8L847.6 128.7L848.0 141.7L848.4 129.7L848.8 134.0L849.3 136.2L849.7 139.1L850.1 143.4L850.5 141.3L850.9 144.0L851.4 135.2L851.8 133.2L852.2 131.5L852.6 141.4L853.1 139.3L853.5 132.0L853.9 141.5L854.3 142.8L854.8 145.4L855.2 145.5L855.6 144.1L856.0 139.0L856.5 138.3L856.9 135.7L857.3 147.0L857.7 139.9L858.2 142.7L858.6 135.2L859.0 139.0L859.4 146.6L859.9 141.0L860.3 148.1L860.7 142.1L861.1 147.9L861.5 142.3L862.0 146.8L862.4 147.7L862.8 140.3L863.2 137.9L863.7 142.1L864.1 146.5L864.5 151.5L864.9 142.3L865.4 145.6L865.8 147.1L866.2 151.1L866.6 150.3L867.1 151.3L867.5 154.1L867.9 140.6L868.3 141.5L868.8 141.6L869.2 148.5L869.6 144.2L870.0 155.5L870.5 154.3L870.9 155.0L871.3 149.7L871.7 157.0L872.1 152.6L872.6 146.8L873.0 146.4L873.4 145.7L873.8 153.8L874.3 155.2L874.7 159.2L875.1 155.5L875.5 160.1L876.0 154.9L876.4 154.3L876.8 158.3L877.2 151.2L877.7 157.1L878.1 158.3L878.5 159.7L878.9 158.8L879.4 155.0L879.8 153.8L880.2 162.9L880.6 166.4L881.1 159.8L881.5 165.0L881.9 159.1L882.3 157.0L882.7 163.2L883.2 165.8L883.6 161.2L884.0 166.8L884.4 161.9L884.9 166.0L885.3 168.3L885.7 163.6L886.1 166.4L886.6 167.5L887.0 162.5L887.4 169.4L887.8 165.4L888.3 168.8L888.7 168.1L889.1 169.7L889.5 173.4L890.0 172.7L890.4 176.0L890.8 168.4L891.2 165.4L891.7 177.1L892.1 166.7L892.5 168.6L892.9 178.7L893.3 169.1L893.8 173.4L894.2 175.4L894.6 179.7L895.0 174.7L895.5 175.5L895.9 169.8L896.3 175.5L896.7 174.6L897.2 170.4L897.6 178.1L898.0 176.4L898.4 178.8L898.9 176.4L899.3 181.6L899.7 176.5L900.1 174.8L900.6 181.7L901.0 173.2L901.4 178.2L901.8 174.2L902.3 179.7L902.7 178.2L903.1 177.6L903.5 180.7L903.9 175.3L904.4 179.4L904.8 182.7L905.2 184.1L905.6 181.4L906.1 177.0L906.5 182.6L906.9 175.0L907.3 175.8L907.8 179.9L908.2 180.0L908.6 175.8L909.0 176.4L909.5 182.9L909.9 183.4L910.3 183.1L910.7 184.0L911.2 171.2L911.6 176.6L912.0 174.5L912.4 170.1L912.9 174.1L913.3 175.0L913.7 179.0L914.1 176.9L914.5 180.9L915.0 179.1L915.4 172.5L915.8 171.3L916.2 172.0L916.7 170.8L917.1 165.5L917.5 170.1L917.9 168.8L918.4 175.1L918.8 174.6L919.2 169.3L919.6 164.7L920.1 171.0L920.5 162.4L920.9 161.9L921.3 170.4L921.8 163.5L922.2 165.3L922.6 167.1L923.0 167.5L923.5 162.2L923.9 164.2L924.3 159.4L924.7 162.8L925.1 155.8L925.6 155.2L926.0 164.6L926.4 165.4L926.8 156.6L927.3 158.5L927.7 150.3L928.1 154.1L928.5 162.4L929.0 156.4L929.4 147.8L929.8 146.6L930.2 153.5L930.7 148.6L931.1 155.0L931.5 151.6L931.9 153.4L932.4 140.4L932.8 145.5L933.2 140.2L933.6 143.6L934.1 134.1L934.5 142.2L934.9 147.3L935.3 135.2L935.7 134.1L936.2 128.4L936.6 139.1L937.0 135.7L937.4 132.5L937.9 138.9L938.3 136.3L938.7 132.0L939.1 124.3L939.6 138.0L940.0 123.2L940.4 130.4L940.8 129.8L941.3 130.5L941.7 124.2L942.1 122.5L942.5 129.7L943.0 129.2L943.4 130.8L943.8 127.3L944.2 118.0L944.7 124.8L945.1 122.9L945.5 124.1L945.9 117.9L946.3 119.4L946.8 117.9L947.2 125.9L947.6 122.5L948.0 124.3L948.5 123.8L948.9 121.8L949.3 116.6L949.7 125.0L950.2 120.4L950.6 116.6L951.0 121.8L951.4 120.2L951.9 124.4L952.3 117.8L952.7 117.2L953.1 121.9L953.6 118.8L954.0 119.1L954.4 121.4L954.8 123.3L955.3 116.4L955.7 119.6L956.1 121.1L956.5 118.1L956.9 122.5L957.4 116.1L957.8 117.5L958.2 117.7L958.6 115.7L959.1 122.1L959.5 122.8L959.9 120.6L960.3 120.5L960.8 122.8L961.2 120.5L961.6 115.4L962.0 115.1L962.5 115.4L962.9 118.8L963.3 118.2L963.7 121.5L964.2 118.2L964.6 121.1L965.0 122.8L965.4 120.6L965.9 123.8L966.3 119.6"/>
<path d="M33.4 306.8L33.7 317.0L34.1 317.7L34.5 318.0L35.0 318.4L35.4 319.0L35.8 318.6L36.2 319.1L36.7 319.2L37.1 319.9L37.5 320.5L37.9 320.5L38.4 320.9L38.8 320.5L39.2 321.3L39.6 321.3L40.1 322.3L40.5 322.3L40.9 322.6L41.3 322.5L41.8 322.9L42.2 323.2L42.6 323.1L43.0 323.3L43.5 323.6L43.9 323.7L44.3 323.9L44.7 324.2L45.1 324.3L45.6 325.0L46.0 324.6L46.4 325.5L46.8 325.4L47.3 325.7L47.7 325.7L48.1 326.3L48.5 326.6L49.0 327.0L49.4 327.1L49.8 327.5L50.2 328.3L50.7 328.2L51.1 328.1L51.5 328.8L51.9 328.7L52.4 329.1L52.8 329.3L53.2 329.2L53.6 328.9L54.1 329.5L54.5 329.9L54.9 329.7L55.3 330.1L55.7 330.4L56.2 330.0L56.6 330.7L57.0 330.9L57.4 330.8L57.9 330.9L58.3 331.0L58.7 331.4L59.1 330.8L59.6 330.8L60.0 331.0L60.4 330.5L60.8 330.3L61.3 330.5L61.7 330.8L62.1 330.7L62.5 330.1L63.0 329.9L63.4 330.2L63.8 330.2L64.2 330.1L64.7 330.2L65.1 330.2L65.5 329.8L65.9 329.8L66.3 329.2L66.8 329.0L67.2 329.2L67.6 329.2L68.0 329.0L68.5 328.7L68.9 328.5L69.3 328.3L69.7 327.2L70.2 327.3L70.6 327.3L71.0 327.1L71.4 326.2L71.9 326.7L72.3 325.9L72.7 325.7L73.1 325.5L73.6 325.4L74.0 324.4L74.4 324.8L74.8 324.2L75.3 323.6L75.7 323.4L76.1 322.5L76.5 322.6L76.9 322.5L77.4 321.8L77.8 321.6L78.2 321.2L78.6 320.9L79.1 320.8L79.5 320.2L79.9 319.7L80.3 319.6L80.8 319.7L81.2 318.6L81.6 318.5L82.0 317.5L82.5 318.0L82.9 317.5L83.3 317.3L83.7 316.5L84.2 315.9L84.6 316.1L85.0 315.7L85.4 314.9L85.9 314.3L86.3 314.6L86.7 314.0L87.1 314.5L87.5 313.3L88.0 313.0L88.4 312.8L88.8 312.0L89.2 311.9L89.7 312.4L90.1 311.6L90.5 311.1L90.9 310.6L91.4 310.9L91.8 310.7L92.2 310.3L92.6 309.8L93.1 309.7L93.5 309.5L93.9 308.9L94.3 309.1L94.8 308.0L95.2 308.0L95.6 308.1L96.0 307.9L96.5 307.3L96.9 307.6L97.3 307.6L97.7 307.2L98.1 306.9L98.6 306.9L99.0 306.5L99.4 305.9L99.8 305.9L100.3 306.2L100.7 305.3L101.1 305.4L101.5 305.1L102.0 304.7L102.4 304.5L102.8 304.7L103.2 304.6L103.7 304.4L104.1 303.7L104.5 303.8L104.9 303.9L105.4 303.9L105.8 303.6L106.2 303.5L106.6 303.4L107.1 303.2L107.5 302.5L107.9 302.6L108.3 302.2L108.7 301.6L109.2 301.6L109.6 302.6L110.0 301.5L110.4 301.0L110.9 301.3L111.3 301.8L111.7 301.1L112.1 301.1L112.6 300.7L113.0 300.6L113.4 300.8L113.8 300.5L114.3 300.1L114.7 300.2L115.1 300.0L115.5 299.5L116.0 299.4L116.4 299.2L116.8 298.8L117.2 299.1L117.7 298.5L118.1 298.2L118.5 297.7L118.9 297.6L119.3 298.3L119.8 297.3L120.2 297.5L120.6 297.1L121.0 297.2L121.5 297.0L121.9 296.4L122.3 296.3L122.7 296.3L123.2 296.1L123.6 295.8L124.0 295.6L124.4 295.7L124.9 295.7L125.3 295.3L125.7 294.7L126.1 294.9L126.6 294.6L127.0 294.5L127.4 294.8L127.8 294.0L128.3 293.8L128.7 293.4L129.1 293.4L129.5 293.1L129.9 293.6L130.4 293.0L130.8 292.6L131.2 293.1L131.6 292.0L132.1 292.5L132.5 292.3L132.9 292.0L133.3 291.6L133.8 291.5L134.2 291.2L134.6 291.4L135.0 290.3L135.5 290.7L135.9 290.8L136.3 290.4L136.7 289.9L137.2 290.2L137.6 289.9L138.0 290.2L138.4 290.3L138.9 289.8L139.3 289.0L139.7 289.4L140.1 289.0L140.5 289.4L141.0 289.5L141.4 289.0L141.8 289.3L142.2 289.0L142.7 288.7L143.1 288.1L143.5 288.2L143.9 287.7L144.4 288.3L144.8 287.9L145.2 288.1L145.6 287.7L146.1 286.9L146.5 287.6L146.9 287.6L147.3 287.8L147.8 286.9L148.2 286.9L148.6 287.1L149.0 286.8L149.5 286.6L149.9 286.7L150.3 287.8L150.7 286.9L151.1 286.7L151.6 286.9L152.0 287.1L152.4 287.5L152.8 287.4L153.3 287.3L153.7 287.1L154.1 287.2L154.5 287.0L155.0 286.7L155.4 287.8L155.8 287.1L156.2 287.6L156.7 287.2L157.1 287.3L157.5 287.3L157.9 287.0L158.4 287.4L158.8 287.5L159.2 287.7L159.6 287.6L160.1 287.8L160.5 287.6L160.9 287.6L161.3 287.0L161.7 287.5L162.2 288.1L162.6 287.7L163.0 287.9L163.4 287.6L163.9 287.5L164.3 288.3L164.7 287.9L165.1 288.2L165.6 287.9L166.0 287.7L166.4 287.1L166.8 287.9L167.3 287.4L167.7 287.2L168.1 288.3L168.5 288.1L169.0 288.1L169.4 287.9L169.8 287.9L170.2 288.1L170.7 288.0L171.1 288.0L171.5 288.3L171.9 287.3L172.3 288.4L172.8 287.9L173.2 288.4L173.6 288.5L174.0 288.0L174.5 288.5L174.9 288.5L175.3 288.2L175.7 288.3L176.2 288.5L176.6 287.9L177.0 288.5L177.4 288.8L177.9 288.7L178.3 288.5L178.7 288.9L179.1 289.6L179.6 289.7L180.0 289.4L180.4 289.3L180.8 289.6L181.3 289.8L181.7 289.7L182.1 289.9L182.5 290.3L182.9 290.6L183.4 289.7L183.8 290.8L184.2 290.7L184.6 291.2L185.1 290.9L185.5 291.2L185.9 291.7L186.3 290.4L186.8 291.9L187.2 291.6L187.6 291.1L188.0 291.0L188.5 292.0L188.9 291.7L189.3 292.4L189.7 292.3L190.2 292.3L190.6 292.8L191.0 292.7L191.4 293.0L191.9 293.1L192.3 293.1L192.7 293.4L193.1 293.5L193.5 293.0L194.0 293.5L194.4 293.7L194.8 293.8L195.2 293.6L195.7 294.1L196.1 294.5L196.5 294.7L196.9 295.3L197.4 294.8L197.8 295.1L198.2 295.3L198.6 295.6L199.1 295.8L199.5 295.6L199.9 296.6L200.3 297.0L200.8 297.3L201.2 297.0L201.6 297.5L202.0 298.4L202.5 298.1L202.9 298.6L203.3 298.7L203.7 299.4L204.1 299.7L204.6 300.5L205.0 300.3L205.4 300.7L205.8 300.6L206.3 301.3L206.7 301.6L207.1 302.1L207.5 302.2L208.0 303.4L208.4 303.1L208.8 304.0L209.2 303.9L209.7 304.8L210.1 305.6L210.5 305.2L210.9 306.0L211.4 306.2L211.8 306.7L212.2 307.2L212.6 307.3L213.1 307.8L213.5 308.1L213.9 308.4L214.3 308.7L214.7 309.7L215.2 309.6L215.6 310.4L216.0 310.8L216.4 310.7L216.9 311.6L217.3 311.4L217.7 312.2L218.1 312.8L218.6 312.5L219.0 312.8L219.4 313.1L219.8 314.4L220.3 313.9L220.7 314.0L221.1 314.9L221.5 314.9L222.0 315.3L222.4 315.3L222.8 315.2L223.2 316.0L223.7 316.2L224.1 316.3L224.5 316.7L224.9 317.1L225.3 317.9L225.8 318.2L226.2 318.4L226.6 318.4L227.0 318.4L227.5 319.2L227.9 319.5L228.3 320.0L228.7 319.9L229.2 320.2L229.6 320.6L230.0 320.5L230.4 320.8L230.9 321.5L231.3 321.2L231.7 321.8L232.1 322.3L232.6 322.3L233.0 322.6L233.4 322.4L233.8 322.9L234.3 323.0L234.7 323.5L235.1 323.7L235.5 323.7L235.9 324.5L236.4 324.3L236.8 324.3L237.2 324.4L237.6 324.8L238.1 324.8L238.5 325.7L238.9 325.5L239.3 325.4L239.8 325.5L240.2 325.5L240.6 325.9L241.0 326.5L241.5 326.5L241.9 326.3L242.3 326.5L242.7 326.0L243.2 326.8L243.6 326.5L244.0 327.0L244.4 326.6L244.9 326.5L245.3 326.8L245.7 326.5L246.1 327.1L246.5 326.8L247.0 326.9L247.4 326.9L247.8 326.7L248.2 326.9L248.7 326.8L249.1 327.3L249.5 326.8L249.9 326.9L250.4 326.7L250.8 326.7L251.2 326.7L251.6 327.1L252.1 326.7L252.5 326.8L252.9 326.2L253.3 326.0L253.8 325.4L254.2 326.0L254.6 326.1L255.0 325.2L255.5 325.5L255.9 325.2L256.3 324.6L256.7 324.9L257.1 324.3L257.6 324.4L258.0 324.8L258.4 324.5L258.8 324.2L259.3 325.1L259.7 324.4L260.1 324.9L260.5 324.9L261.0 325.0L261.4 324.8L261.8 324.5L262.2 325.6L262.7 324.7L263.1 324.8L263.5 324.3L263.9 325.1L264.4 321.4L264.8 325.5L265.2 323.7L265.6 324.3L266.1 324.3L266.5 319.9L266.9 319.6L267.3 321.6L267.7 324.0L268.2 318.3L268.6 323.6L269.0 319.2L269.4 317.5L269.9 322.2L270.3 320.2L270.7 322.7L271.1 320.1L271.6 317.2L272.0 316.2L272.4 315.2L272.8 316.9L273.3 319.5L273.7 319.4L274.1 316.4L274.5 319.7L275.0 316.9L275.4 315.8L275.8 319.4L276.2 318.4L276.7 312.5L277.1 318.3L277.5 312.1L277.9 313.3L278.3 318.4L278.8 319.2L279.2 318.8L279.6 312.3L280.0 310.8L280.5 310.4L280.9 313.8L281.3 314.8L281.7 318.1L282.2 313.4L282.6 312.0L283.0 312.5L283.4 312.1L283.9 308.4L284.3 314.3L284.7 314.4L285.1 313.3L285.6 312.5L286.0 312.0L286.4 310.0L286.8 310.4L287.3 310.2L287.7 315.9L288.1 307.0L288.5 304.1L288.9 312.7L289.4 310.0L289.8 305.5L290.2 313.2L290.6 314.0L291.1 309.0L291.5 313.7L291.9 301.7L292.3 306.6L292.8 299.8L293.2 302.0L293.6 313.7L294.0 307.8L294.5 314.0L294.9 299.7L295.3 314.1L295.7 302.1L296.2 298.0L296.6 306.3L297.0 297.6L297.4 307.8L297.9 310.9L298.3 302.5L298.7 309.5L299.1 301.9L299.5 312.2L300.0 298.8L300.4 306.4L300.8 296.9L301.2 298.2L301.7 311.1L302.1 303.7L302.5 307.4L302.9 310.8L303.4 302.2L303.8 303.8L304.2 302.3L304.6 298.7L305.1 296.2L305.5 299.5L305.9 305.5L306.3 305.6L306.8 296.9L307.2 309.5L307.6 307.7L308.0 302.3L308.5 302.7L308.9 296.8L309.3 299.7L309.7 294.0L310.1 300.7L310.6 301.8L311.0 308.6L311.4 309.8L311.8 293.8L312.3 309.5L312.7 301.3L313.1 301.3L313.5 296.1L314.0 309.0L314.4 299.0L314.8 300.1L315.2 305.5L315.7 300.4L316.1 293.9L316.5 294.9L316.9 300.9L317.4 292.7L317.8 305.0L318.2 303.1L318.6 307.9L319.1 311.8L319.5 311.4L319.9 289.1L320.3 293.1L320.7 289.1L321.2 290.1L321.6 289.0L322.0 312.9L322.4 308.3L322.9 306.8L323.3 314.4L323.7 287.9L324.1 302.6L324.6 303.2L325.0 302.0L325.4 301.2L325.8 302.8L326.3 287.5L326.7 290.5L327.1 298.4L327.5 316.9L328.0 318.0L328.4 302.4L328.8 315.9L329.2 306.5L329.7 302.7L330.1 287.3L330.5 289.2L330.9 288.3L331.3 299.6L331.8 308.7L332.2 321.3L332.6 321.2L333.0 287.8L333.5 297.1L333.9 292.7L334.3 295.7L334.7 304.2L335.2 306.9L335.6 311.4L336.0 302.8L336.4 308.6L336.9 306.9L337.3 304.6L337.7 312.1L338.1 300.5L338.6 300.6L339.0 296.6L339.4 318.3L339.8 302.7L340.3 318.7L340.7 308.9L341.1 315.6L341.5 298.1L341.9 296.2L342.4 306.8L342.8 307.6L343.2 318.1L343.6 313.1L344.1 319.0L344.5 305.0L344.9 303.5L345.3 298.9L345.8 311.3L346.2 300.3L346.6 298.1L347.0 311.5L347.5 319.4L347.9 319.6L348.3 312.8L348.7 317.0L349.2 297.8L349.6 296.9L350.0 306.6L350.4 309.6L350.9 304.2L351.3 311.2L351.7 306.2L352.1 316.7L352.5 308.0L353.0 319.8L353.4 306.2L353.8 302.5L354.2 304.4L354.7 309.2L355.1 297.0L355.5 312.0L355.9 312.6L356.4 317.0L356.8 307.3L357.2 305.8L357.6 305.8L358.1 301.8L358.5 303.2L358.9 311.7L359.3 319.0L359.8 298.0L360.2 304.5L360.6 312.2L361.0 308.1L361.5 312.4L361.9 301.3L362.3 309.4L362.7 308.8L363.1 304.3L363.6 313.2L364.0 300.2L364.4 306.2L364.8 306.2L365.3 309.4L365.7 315.3L366.1 307.5L366.5 301.9L367.0 303.4L367.4 307.7L367.8 307.5L368.2 299.8L368.7 312.9L369.1 311.3L369.5 305.1L369.9 312.8L370.4 300.8L370.8 298.2L371.2 306.9L371.6 305.8L372.1 310.2L372.5 304.2L372.9 311.9L373.3 303.2L373.7 306.3L374.2 302.9L374.6 296.2L375.0 296.2L375.4 298.3L375.9 310.9L376.3 309.4L376.7 306.7L377.1 300.1L377.6 300.9L378.0 304.7L378.4 297.2L378.8 300.4L379.3 298.2L379.7 303.5L380.1 293.8L380.5 309.2L381.0 305.2L381.4 294.0L381.8 300.7L382.2 298.6L382.7 304.0L383.1 300.3L383.5 301.1L383.9 308.0L384.3 300.5L384.8 299.8L385.2 296.3L385.6 293.7L386.0 308.0L386.5 294.6L386.9 303.6L387.3 302.8L387.7 295.0L388.2 300.3L388.6 307.1L389.0 305.6L389.4 301.3L389.9 293.4L390.3 296.3L390.7 297.0L391.1 302.7L391.6 307.0L392.0 300.8L392.4 293.5L392.8 296.5L393.3 296.0L393.7 306.5L394.1 300.9L394.5 303.8L394.9 297.6L395.4 297.2L395.8 296.3L396.2 302.0L396.6 291.3L397.1 296.0L397.5 298.4L397.9 295.1L398.3 301.7L398.8 300.4L399.2 300.6L399.6 300.3L400.0 300.4L400.5 302.4L400.9 291.3L401.3 290.6L401.7 291.4L402.2 289.1L402.6 302.2L403.0 301.0L403.4 303.0L403.9 301.9L404.3 296.8L404.7 296.6L405.1 293.9L405.5 297.9L406.0 291.5L406.4 292.0L406.8 292.3L407.2 302.8L407.7 298.8L408.1 298.5L408.5 298.8L408.9 293.5L409.4 296.2L409.8 294.8L410.2 296.9L410.6 290.4L411.1 294.3L411.5 299.8L411.9 300.7L412.3 295.2L412.8 296.0L413.2 295.1L413.6 299.8L414.0 291.2L414.5 296.9L414.9 294.1L415.3 294.7L415.7 297.2L416.1 302.2L416.6 294.5L417.0 297.5L417.4 292.9L417.8 303.9L418.3 300.2L418.7 293.2L419.1 287.5L419.5 297.1L420.0 301.0L420.4 292.1L420.8 303.6L421.2 296.4L421.7 300.3L422.1 304.3L422.5 305.2L422.9 298.1L423.4 296.6L423.8 284.6L424.2 299.4L424.6 297.9L425.1 293.3L425.5 304.2L425.9 295.8L426.3 313.0L426.7 313.4L427.2 289.7L427.6 312.0L428.0 282.8L428.4 286.1L428.9 297.2L429.3 303.0L429.7 299.8L430.1 301.7L430.6 295.5L431.0 295.9L431.4 308.6L431.8 283.6L432.3 303.6L432.7 292.3L433.1 286.9L433.5 310.8L434.0 310.9L434.4 290.5L434.8 296.3L435.2 299.1L435.7 298.4L436.1 282.6L436.5 305.9L436.9 309.2L437.3 300.0L437.8 310.5L438.2 311.0L438.6 290.2L439.0 287.3L439.5 305.2L439.9 309.0L440.3 287.8L440.7 281.3L441.2 323.2L441.6 292.9L442.0 313.9L442.4 313.1L442.9 290.6L443.3 278.6L443.7 300.5L444.1 326.4L444.6 307.2L445.0 309.3L445.4 313.6L445.8 281.5L446.3 293.0L446.7 304.4L447.1 302.1L447.5 300.0L447.9 310.6L448.4 311.2L448.8 305.9L449.2 296.0L449.6 292.5L450.1 292.5L450.5 294.6L450.9 317.4L451.3 314.7L451.8 297.6L452.2 297.7L452.6 288.2L453.0 308.9L453.5 308.6L453.9 315.5L454.3 316.2L454.7 298.3L455.2 292.8L455.6 299.2L456.0 304.6L456.4 291.1L456.9 313.2L457.3 296.3L457.7 316.9L458.1 305.0L458.5 312.4L459.0 320.7L459.4 291.0L459.8 289.8L460.2 298.3L460.7 300.6L461.1 318.7L461.5 301.2L461.9 316.2L462.4 308.0L462.8 295.2L463.2 321.4L463.6 316.7L464.1 291.0L464.5 294.6L464.9 323.8L465.3 291.9L465.8 324.8L466.2 322.7L466.6 293.9L467.0 295.4L467.5 313.3L467.9 291.8L468.3 319.3L468.7 327.6L469.1 328.2L469.6 288.1L470.0 289.8L470.4 288.8L470.8 320.5L471.3 325.3L471.7 301.4L472.1 308.6L472.5 319.2L473.0 323.6L473.4 311.6L473.8 299.2L474.2 304.4L474.7 330.8L475.1 319.0L475.5 302.7L475.9 280.6L476.4 293.1L476.8 337.7L477.2 339.0L477.6 326.8L478.1 294.7L478.5 281.2L478.9 323.6L479.3 327.8L479.7 308.2L480.2 296.1L480.6 321.5L481.0 318.9L481.4 317.3L481.9 296.5L482.3 277.4L482.7 325.2L483.1 341.4L483.6 328.4L484.0 325.5L484.4 307.7L484.8 310.4L485.3 294.4L485.7 350.0L486.1 284.6L486.5 295.3L487.0 329.5L487.4 352.3L487.8 350.6L488.2 306.4L488.7 329.5L489.1 294.1L489.5 267.0L489.9 266.0L490.3 318.7L490.8 322.0L491.2 359.0L491.6 324.6L492.0 298.5L492.5 298.5L492.9 306.3L493.3 326.7L493.7 257.2L494.2 355.8L494.6 363.4L495.0 296.8L495.4 318.5L495.9 306.2L496.3 268.2L496.7 326.6L497.1 314.1L497.6 321.3L498.0 305.3L498.4 326.7L498.8 326.9L499.3 317.8L499.7 296.9L500.1 297.5L500.5 259.8L500.9 318.2L501.4 317.1L501.8 299.4L502.2 304.1L502.6 327.7L503.1 353.0L503.5 324.4L503.9 293.9L504.3 295.0L504.8 299.3L505.2 331.7L505.6 322.3L506.0 306.5L506.5 304.3L506.9 307.8L507.3 306.4L507.7 303.0L508.2 305.9L508.6 313.6L509.0 354.2L509.4 354.0L509.9 355.5L510.3 295.2L510.7 284.8L511.1 306.7L511.5 308.8L512.0 325.9L512.4 324.1L512.8 327.8L513.2 321.5L513.7 304.5L514.1 306.3L514.5 325.0L514.9 324.6L515.4 310.2L515.8 317.1L516.2 274.2L516.6 297.9L517.1 310.3L517.5 352.6L517.9 342.9L518.3 325.0L518.8 316.5L519.2 298.6L519.6 314.4L520.0 298.9L520.5 310.6L520.9 313.4L521.3 308.3L521.7 263.8L522.1 297.6L522.6 326.1L523.0 326.7L523.4 314.1L523.8 321.8L524.3 312.9L524.7 299.4L525.1 323.2L525.5 312.0L526.0 284.3L526.4 312.9L526.8 323.9L527.2 321.6L527.7 320.8L528.1 298.6L528.5 320.4L528.9 319.2L529.4 331.6L529.8 310.0L530.2 299.7L530.6 293.5L531.1 294.9L531.5 331.5L531.9 323.5L532.3 298.1L532.7 298.4L533.2 308.4L533.6 322.1L534.0 332.1L534.4 327.7L534.9 297.3L535.3 291.7L535.7 291.7L536.1 323.1L536.6 329.8L537.0 328.4L537.4 301.4L537.8 292.3L538.3 311.5L538.7 319.4L539.1 330.2L539.5 329.3L540.0 323.0L540.4 284.8L540.8 289.1L541.2 291.7L541.7 348.5L542.1 290.0L542.5 289.8L542.9 336.1L543.3 332.0L543.8 271.8L544.2 325.4L544.6 275.3L545.0 341.7L545.5 286.6L545.9 281.1L546.3 363.7L546.7 249.2L547.2 287.3L547.6 287.6L548.0 369.3L548.4 246.7L548.9 333.9L549.3 337.5L549.7 248.4L550.1 368.5L550.6 281.5L551.0 351.9L551.4 285.0L551.8 316.2L552.3 343.4L552.7 267.2L553.1 275.4L553.5 375.9L553.9 273.8L554.4 243.5L554.8 378.7L555.2 298.8L555.6 303.2L556.1 279.2L556.5 380.0L556.9 273.5L557.3 228.0L557.8 320.6L558.2 384.7L558.6 281.4L559.0 293.5L559.5 353.4L559.9 289.0L560.3 301.5L560.7 364.6L561.2 238.7L561.6 329.7L562.0 339.4L562.4 267.9L562.9 294.0L563.3 346.1L563.7 334.4L564.1 283.2L564.5 294.0L565.0 365.6L565.4 249.9L565.8 272.0L566.2 360.5L566.7 273.4L567.1 299.5L567.5 307.8L567.9 302.7L568.4 350.5L568.8 262.5L569.2 345.5L569.6 313.3L570.1 315.2L570.5 311.2L570.9 279.1L571.3 326.0L571.8 326.2L572.2 261.8L572.6 333.6L573.0 328.4L573.5 309.7L573.9 292.9L574.3 346.8L574.7 266.7L575.1 287.6L575.6 323.7L576.0 309.2L576.4 287.1L576.8 321.4L577.3 306.7L577.7 276.2L578.1 310.8L578.5 322.0L579.0 305.3L579.4 320.7L579.8 325.5L580.2 325.6L580.7 279.3L581.1 291.3L581.5 302.9L581.9 290.3L582.4 305.9L582.8 320.1L583.2 291.5L583.6 322.1L584.1 316.9L584.5 297.2L584.9 326.8L585.3 295.3L585.7 292.3L586.2 305.7L586.6 290.1L587.0 316.6L587.4 286.2L587.9 297.6L588.3 322.7L588.7 326.7L589.1 327.0L589.6 326.5L590.0 284.5L590.4 282.9L590.8 290.5L591.3 287.0L591.7 325.8L592.1 297.9L592.5 327.0L593.0 304.9L593.4 329.0L593.8 317.5L594.2 293.3L594.7 281.7L595.1 286.0L595.5 302.5L595.9 301.3L596.3 327.2L596.8 314.7L597.2 276.5L597.6 317.5L598.0 311.4L598.5 320.3L598.9 317.3L599.3 312.1L599.7 300.1L600.2 279.1L600.6 273.1L601.0 327.2L601.4 291.9L601.9 280.8L602.3 347.8L602.7 350.0L603.1 298.0L603.6 270.8L604.0 343.5L604.4 301.1L604.8 302.1L605.3 298.8L605.7 306.9L606.1 281.6L606.5 321.1L606.9 286.0L607.4 277.1L607.8 279.8L608.2 320.8L608.6 327.9L609.1 278.1L609.5 325.1L609.9 285.4L610.3 296.9L610.8 322.0L611.2 336.5L611.6 266.1L612.0 277.4L612.5 299.7L612.9 300.7L613.3 276.4L613.7 333.5L614.2 332.2L614.6 305.9L615.0 265.6L615.4 331.9L615.9 321.8L616.3 320.0L616.7 285.8L617.1 288.3L617.5 267.2L618.0 280.2L618.4 333.5L618.8 333.5L619.2 293.1L619.7 295.9L620.1 295.2L620.5 331.2L620.9 322.5L621.4 269.3L621.8 322.6L622.2 272.1L622.6 285.8L623.1 324.9L623.5 323.2L623.9 331.8L624.3 306.2L624.8 284.4L625.2 296.2L625.6 293.3L626.0 295.4L626.5 329.4L626.9 297.8L627.3 277.2L627.7 278.3L628.1 302.9L628.6 330.5L629.0 310.7L629.4 328.9L629.8 280.4L630.3 299.8L630.7 290.5L631.1 285.9L631.5 325.4L632.0 308.9L632.4 296.8L632.8 319.4L633.2 287.1L633.7 296.7L634.1 317.3L634.5 297.3L634.9 319.5L635.4 318.9L635.8 301.3L636.2 285.4L636.6 295.1L637.1 296.4L637.5 307.3L637.9 323.8L638.3 306.8L638.7 294.5L639.2 308.3L639.6 326.7L640.0 310.6L640.4 317.0L640.9 289.4L641.3 297.1L641.7 320.2L642.1 298.8L642.6 306.1L643.0 309.6L643.4 317.0L643.8 328.5L644.3 298.9L644.7 295.7L645.1 307.0L645.5 326.4L646.0 309.1L646.4 322.2L646.8 318.2L647.2 307.1L647.7 324.8L648.1 296.9L648.5 304.8L648.9 294.8L649.3 302.6L649.8 339.8L650.2 322.8L650.6 309.1L651.0 318.5L651.5 297.5L651.9 341.4L652.3 299.9L652.7 305.8L653.2 336.6L653.6 318.1L654.0 296.8L654.4 313.5L654.9 311.6L655.3 314.1L655.7 344.7L656.1 311.9L656.6 332.6L657.0 305.9L657.4 301.6L657.8 343.8L658.3 327.7L658.7 300.5L659.1 310.6L659.5 297.1L659.9 325.9L660.4 343.2L660.8 314.3L661.2 334.5L661.6 333.3L662.1 300.2L662.5 329.6L662.9 335.6L663.3 309.6L663.8 297.6L664.2 306.7L664.6 323.4L665.0 345.5L665.5 321.3L665.9 342.8L666.3 300.3L666.7 299.5L667.2 323.5L667.6 302.1L668.0 331.6L668.4 304.1L668.9 343.8L669.3 290.5L669.7 322.7L670.1 341.1L670.5 291.1L671.0 323.3L671.4 341.4L671.8 302.2L672.2 325.4L672.7 334.9L673.1 302.0L673.5 299.3L673.9 301.0L674.4 325.8L674.8 338.8L675.2 338.7L675.6 332.5L676.1 300.1L676.5 311.0L676.9 304.8L677.3 316.3L677.8 332.3L678.2 326.3L678.6 312.8L679.0 300.4L679.5 322.4L679.9 313.3L680.3 331.1L680.7 327.1L681.1 329.1L681.6 302.5L682.0 311.9L682.4 323.8L682.8 328.3L683.3 303.4L683.7 317.0L684.1 316.2L684.5 319.1L685.0 313.9L685.4 319.0L685.8 319.5L686.2 325.3L686.7 329.2L687.1 319.5L687.5 297.9L687.9 307.5L688.4 313.0L688.8 299.7L689.2 335.6L689.6 311.1L690.1 317.2L690.5 333.4L690.9 300.6L691.3 310.3L691.7 298.7L692.2 318.6L692.6 322.2L693.0 296.9L693.4 331.4L693.9 315.1L694.3 309.5L694.7 328.3L695.1 306.9L695.6 296.5L696.0 328.7L696.4 296.2L696.8 294.9L697.3 327.1L697.7 298.0L698.1 322.0L698.5 325.2L699.0 297.9L699.4 293.7L699.8 319.7L700.2 321.8L700.7 321.0L701.1 308.8L701.5 298.4L701.9 298.1L702.3 294.7L702.8 313.4L703.2 294.9L703.6 322.4L704.0 317.4L704.5 318.4L704.9 306.0L705.3 305.4L705.7 291.9L706.2 314.9L706.6 311.8L707.0 313.1L707.4 295.6L707.9 292.7L708.3 318.2L708.7 294.2L709.1 314.0L709.6 315.9L710.0 314.8L710.4 290.9L710.8 304.5L711.3 319.8L711.7 292.9L712.1 302.8L712.5 290.1L712.9 294.9L713.4 311.3L713.8 316.3L714.2 320.0L714.6 293.2L715.1 292.1L715.5 288.9L715.9 310.7L716.3 317.7L716.8 294.3L717.2 319.8L717.6 294.4L718.0 291.3L718.5 314.4L718.9 311.4L719.3 313.4L719.7 290.0L720.2 295.6L720.6 291.6L721.0 300.4L721.4 303.4L721.9 304.0L722.3 304.1L722.7 294.4L723.1 291.7L723.5 299.1L724.0 291.9L724.4 289.9L724.8 292.1L725.2 305.9L725.7 293.8L726.1 295.8L726.5 305.6L726.9 302.1L727.4 293.3L727.8 293.6L728.2 291.2L728.6 291.1L729.1 300.3L729.5 301.9L729.9 298.2L730.3 297.0L730.8 296.7L731.2 301.2L731.6 304.4L732.0 292.3L732.5 292.2L732.9 292.4L733.3 294.1L733.7 306.9L734.1 297.8L734.6 299.8L735.0 301.9L735.4 306.8L735.8 284.1L736.3 301.0L736.7 296.3L737.1 289.9L737.5 307.4L738.0 311.2L738.4 296.6L738.8 296.8L739.2 301.2L739.7 293.3L740.1 295.0L740.5 298.4L740.9 301.6L741.4 286.1L741.8 296.8L742.2 293.7L742.6 296.7L743.1 315.4L743.5 298.2L743.9 285.1L744.3 318.0L744.7 292.1L745.2 304.8L745.6 284.2L746.0 301.0L746.4 285.4L746.9 311.5L747.3 296.2L747.7 292.5L748.1 294.0L748.6 309.7L749.0 310.0L749.4 309.6L749.8 316.3L750.3 284.7L750.7 311.3L751.1 291.7L751.5 283.5L752.0 302.4L752.4 308.6L752.8 289.9L753.2 317.0L753.7 306.5L754.1 285.3L754.5 311.3L754.9 308.2L755.3 295.0L755.8 298.8L756.2 303.0L756.6 295.2L757.0 304.3L757.5 303.2L757.9 301.3L758.3 301.8L758.7 306.4L759.2 306.3L759.6 291.9L760.0 286.8L760.4 300.8L760.9 306.8L761.3 307.8L761.7 294.3L762.1 305.1L762.6 295.0L763.0 294.1L763.4 305.5L763.8 304.3L764.3 289.7L764.7 289.5L765.1 303.2L765.5 297.8L765.9 292.4L766.4 302.6L766.8 293.6L767.2 294.1L767.6 305.9L768.1 303.8L768.5 308.1L768.9 294.6L769.3 300.4L769.8 287.6L770.2 297.2L770.6 300.2L771.0 296.8L771.5 301.8L771.9 297.6L772.3 295.5L772.7 298.1L773.2 294.8L773.6 306.9L774.0 295.6L774.4 305.0L774.9 300.3L775.3 289.7L775.7 302.8L776.1 290.1L776.5 298.0L777.0 301.8L777.4 302.1L777.8 299.7L778.2 304.5L778.7 303.3L779.1 302.3L779.5 291.4L779.9 300.8L780.4 297.1L780.8 299.7L781.2 302.3L781.6 298.4L782.1 299.0L782.5 308.6L782.9 307.8L783.3 302.4L783.8 303.3L784.2 292.6L784.6 298.1L785.0 298.7L785.5 305.7L785.9 303.3L786.3 313.4L786.7 308.2L787.1 304.9L787.6 297.3L788.0 302.5L788.4 306.6L788.8 298.2L789.3 306.7L789.7 295.7L790.1 296.2L790.5 316.1L791.0 316.8L791.4 310.6L791.8 304.6L792.2 310.1L792.7 297.1L793.1 301.6L793.5 299.8L793.9 303.9L794.4 307.3L794.8 316.8L795.2 316.4L795.6 306.4L796.1 305.7L796.5 310.8L796.9 309.5L797.3 307.8L797.7 304.1L798.2 319.0L798.6 305.1L799.0 316.5L799.4 299.9L799.9 307.8L800.3 304.8L800.7 315.6L801.1 315.2L801.6 312.0L802.0 314.0L802.4 309.5L802.8 315.7L803.3 301.1L803.7 308.0L804.1 302.0L804.5 320.9L805.0 321.7L805.4 314.8L805.8 312.8L806.2 311.9L806.7 305.1L807.1 303.1L807.5 305.2L807.9 313.0L808.3 312.4L808.8 317.2L809.2 322.8L809.6 311.6L810.0 315.2L810.5 319.4L810.9 314.6L811.3 315.3L811.7 304.3L812.2 307.9L812.6 309.3L813.0 304.0L813.4 321.3L813.9 323.6L814.3 321.8L814.7 324.3L815.1 312.8L815.6 317.9L816.0 311.0L816.4 307.7L816.8 316.7L817.3 309.5L817.7 312.3L818.1 323.5L818.5 318.6L818.9 309.1L819.4 315.2L819.8 322.0L820.2 324.4L820.6 318.6L821.1 318.1L821.5 311.6L821.9 315.1L822.3 312.7L822.8 318.1L823.2 320.8L823.6 322.8L824.0 322.5L824.5 320.2L824.9 319.0L825.3 314.4L825.7 313.7L826.2 313.9L826.6 322.1L827.0 316.7L827.4 323.4L827.9 323.3L828.3 318.3L828.7 317.2L829.1 309.1L829.5 326.1L830.0 308.6L830.4 326.4L830.8 307.6L831.2 312.9L831.7 325.8L832.1 315.9L832.5 319.1L832.9 318.3L833.4 322.2L833.8 319.7L834.2 305.4L834.6 305.9L835.1 317.5L835.5 318.1L835.9 314.4L836.3 325.5L836.8 317.6L837.2 307.1L837.6 315.8L838.0 327.7L838.5 323.4L838.9 308.8L839.3 317.6L839.7 320.6L840.1 312.0L840.6 321.4L841.0 314.6L841.4 319.8L841.8 322.4L842.3 316.2L842.7 312.3L843.1 327.0L843.5 321.4L844.0 318.7L844.4 326.7L844.8 323.9L845.2 312.4L845.7 313.9L846.1 318.2L846.5 317.7L846.9 315.9L847.4 323.1L847.8 323.8L848.2 319.0L848.6 324.7L849.1 318.4L849.5 318.3L849.9 314.2L850.3 314.7L850.7 312.1L851.2 319.8L851.6 323.8L852.0 317.1L852.4 318.1L852.9 320.9L853.3 318.1L853.7 315.8L854.1 322.5L854.6 312.3L855.0 322.1L855.4 312.0L855.8 318.4L856.3 317.4L856.7 314.6L857.1 320.3L857.5 316.3L858.0 315.2L858.4 320.5L858.8 315.8L859.2 315.1L859.7 318.5L860.1 315.8L860.5 312.9L860.9 310.7L861.3 311.1L861.8 315.0L862.2 315.6L862.6 321.0L863.0 320.0L863.5 314.1L863.9 313.9L864.3 315.6L864.7 316.2L865.2 312.8L865.6 314.8L866.0 309.6L866.4 308.7L866.9 313.3L867.3 316.0L867.7 312.5L868.1 319.6L868.6 319.5L869.0 315.7L869.4 311.0L869.8 311.6L870.3 307.4L870.7 313.6L871.1 311.0L871.5 310.5L871.9 310.0L872.4 315.2L872.8 315.2L873.2 314.0L873.6 315.7L874.1 309.5L874.5 310.6L874.9 314.1L875.3 316.9L875.8 308.7L876.2 311.1L876.6 312.3L877.0 307.9L877.5 312.4L877.9 303.8L878.3 312.2L878.7 315.0L879.2 312.6L879.6 317.4L880.0 315.4L880.4 303.7L880.9 307.7L881.3 312.0L881.7 316.4L882.1 309.8L882.5 304.5L883.0 311.5L883.4 306.8L883.8 316.0L884.2 309.0L884.7 310.8L885.1 315.1L885.5 313.2L885.9 309.8L886.4 303.2L886.8 309.6L887.2 304.6L887.6 314.8L888.1 314.6L888.5 308.6L888.9 303.7L889.3 306.8L889.8 315.5L890.2 310.5L890.6 305.6L891.0 311.2L891.5 307.2L891.9 307.2L892.3 310.9L892.7 310.2L893.1 313.2L893.6 310.4L894.0 308.2L894.4 309.1L894.8 303.9L895.3 308.6L895.7 310.9L896.1 311.4L896.5 309.9L897.0 305.4L897.4 312.5L897.8 307.9L898.2 310.6L898.7 306.1L899.1 311.0L899.5 310.8L899.9 305.3L900.4 306.0L900.8 309.8L901.2 303.0L901.6 314.0L902.1 307.3L902.5 312.1L902.9 303.6L903.3 312.5L903.7 311.4L904.2 305.1L904.6 304.5L905.0 303.7L905.4 309.3L905.9 313.0L906.3 310.0L906.7 311.1L907.1 300.9L907.6 305.0L908.0 310.3L908.4 303.8L908.8 302.2L909.3 311.3L909.7 305.4L910.1 303.9L910.5 301.3L911.0 305.8L911.4 297.7L911.8 307.1L912.2 305.8L912.7 295.8L913.1 300.4L913.5 298.9L913.9 303.2L914.3 303.6L914.8 306.4L915.2 301.1L915.6 300.9L916.0 302.1L916.5 305.2L916.9 292.2L917.3 296.6L917.7 295.6L918.2 302.5L918.6 299.2L919.0 308.6L919.4 311.4L919.9 291.0L920.3 305.5L920.7 297.4L921.1 297.7L921.6 290.5L922.0 296.1L922.4 300.0L922.8 296.9L923.3 307.2L923.7 295.5L924.1 299.2L924.5 294.9L924.9 293.9L925.4 295.2L925.8 294.2L926.2 290.1L926.6 298.1L927.1 299.9L927.5 289.7L927.9 294.3L928.3 291.2L928.8 294.3L929.2 291.2L929.6 289.3L930.0 287.7L930.5 284.8L930.9 300.4L931.3 300.9L931.7 298.7L932.2 283.6L932.6 293.3L933.0 290.0L933.4 292.2L933.9 290.4L934.3 285.7L934.7 283.8L935.1 296.5L935.5 298.2L936.0 293.2L936.4 296.1L936.8 285.3L937.2 291.5L937.7 287.9L938.1 288.3L938.5 289.9L938.9 288.7L939.4 294.1L939.8 294.4L940.2 293.9L940.6 290.1L941.1 288.9L941.5 288.8L941.9 287.7L942.3 294.8L942.8 292.5L943.2 293.1L943.6 293.3L944.0 289.4L944.5 289.5L944.9 293.2L945.3 293.6L945.7 289.8L946.1 289.6L946.6 292.6L947.0 296.2L947.4 293.5L947.8 288.3L948.3 292.5L948.7 290.2L949.1 290.6L949.5 297.8L950.0 298.4L950.4 291.9L950.8 287.5L951.2 296.2L951.7 292.0L952.1 292.9L952.5 296.6L952.9 292.2L953.4 291.6L953.8 291.4L954.2 292.8L954.6 296.6L955.1 295.8L955.5 291.9L955.9 289.2L956.3 293.0L956.7 294.3L957.2 291.0L957.6 292.8L958.0 289.3L958.4 293.3L958.9 293.8L959.3 295.1L959.7 291.6L960.1 292.7L960.6 289.3L961.0 290.7L961.4 291.7L961.8 296.1L962.3 295.7L962.7 295.4L963.1 292.0L963.5 292.5L964.0 291.8L964.4 297.9L964.8 291.9L965.2 293.6L965.7 292.8"/>
<path d="M33.6 479.5L34.0 478.1L34.4 479.4L34.9 479.1L35.3 479.5L35.7 479.3L36.1 479.7L36.6 479.2L37.0 479.1L37.4 479.4L37.8 479.4L38.3 479.2L38.7 479.2L39.1 479.5L39.5 479.5L40.0 479.2L40.4 479.2L40.8 478.8L41.2 479.9L41.7 479.3L42.1 479.8L42.5 479.5L42.9 480.0L43.4 479.8L43.8 479.5L44.2 479.8L44.6 479.1L45.0 479.8L45.5 479.0L45.9 479.5L46.3 479.7L46.7 479.5L47.2 479.3L47.6 479.2L48.0 479.3L48.4 479.7L48.9 479.7L49.3 479.3L49.7 479.0L50.1 479.5L50.6 478.9L51.0 479.1L51.4 479.0L51.8 479.4L52.3 479.2L52.7 479.3L53.1 479.2L53.5 478.8L54.0 479.1L54.4 479.3L54.8 478.8L55.2 479.0L55.6 478.7L56.1 479.0L56.5 478.8L56.9 478.8L57.3 478.6L57.8 478.9L58.2 478.2L58.6 478.2L59.0 478.0L59.5 478.3L59.9 477.9L60.3 477.8L60.7 478.1L61.2 478.2L61.6 478.0L62.0 476.9L62.4 477.4L62.9 477.3L63.3 477.2L63.7 477.3L64.1 478.0L64.6 477.3L65.0 477.1L65.4 477.5L65.8 477.2L66.2 477.2L66.7 476.9L67.1 477.1L67.5 477.2L67.9 476.4L68.4 476.5L68.8 477.3L69.2 477.2L69.6 476.7L70.1 476.5L70.5 476.7L70.9 476.4L71.3 476.6L71.8 477.2L72.2 476.7L72.6 477.0L73.0 476.5L73.5 476.7L73.9 476.9L74.3 476.1L74.7 476.3L75.2 476.4L75.6 476.5L76.0 476.8L76.4 476.5L76.8 475.8L77.3 476.2L77.7 476.0L78.1 475.9L78.5 476.8L79.0 475.8L79.4 476.2L79.8 475.8L80.2 476.3L80.7 476.1L81.1 476.0L81.5 475.9L81.9 476.2L82.4 475.5L82.8 475.5L83.2 475.4L83.6 476.1L84.1 475.5L84.5 475.3L84.9 475.4L85.3 476.2L85.8 475.4L86.2 475.7L86.6 475.5L87.0 475.3L87.4 475.1L87.9 475.2L88.3 475.1L88.7 474.6L89.1 476.0L89.6 475.5L90.0 475.2L90.4 475.1L90.8 475.0L91.3 475.5L91.7 475.2L92.1 475.4L92.5 474.9L93.0 475.5L93.4 476.0L93.8 475.4L94.2 475.8L94.7 475.6L95.1 476.0L95.5 476.1L95.9 475.8L96.4 475.7L96.8 476.0L97.2 476.0L97.6 475.9L98.0 476.3L98.5 476.3L98.9 476.0L99.3 476.3L99.7 477.3L100.2 476.8L100.6 476.7L101.0 477.5L101.4 476.7L101.9 476.2L102.3 476.5L102.7 476.7L103.1 477.3L103.6 477.6L104.0 476.8L104.4 477.9L104.8 477.3L105.3 477.8L105.7 478.0L106.1 478.1L106.5 478.1L107.0 478.2L107.4 477.9L107.8 478.4L108.2 478.7L108.6 478.8L109.1 479.4L109.5 479.0L109.9 479.0L110.3 479.4L110.8 479.0L111.2 478.7L111.6 478.5L112.0 479.6L112.5 479.5L112.9 479.7L113.3 479.4L113.7 479.7L114.2 480.2L114.6 479.8L115.0 479.5L115.4 479.8L115.9 480.4L116.3 479.7L116.7 479.4L117.1 479.5L117.6 479.9L118.0 480.6L118.4 480.5L118.8 480.3L119.2 480.3L119.7 480.7L120.1 480.8L120.5 480.7L120.9 480.9L121.4 480.9L121.8 481.7L122.2 480.6L122.6 481.4L123.1 481.2L123.5 481.8L123.9 481.6L124.3 481.9L124.8 482.1L125.2 482.1L125.6 482.4L126.0 481.8L126.5 482.6L126.9 482.3L127.3 482.6L127.7 483.0L128.2 483.0L128.6 483.3L129.0 482.1L129.4 482.6L129.8 483.2L130.3 482.7L130.7 483.0L131.1 483.6L131.5 483.4L132.0 482.9L132.4 483.4L132.8 483.5L133.2 483.3L133.7 483.3L134.1 483.4L134.5 482.9L134.9 483.4L135.4 483.1L135.8 483.6L136.2 483.6L136.6 483.2L137.1 483.7L137.5 483.6L137.9 483.5L138.3 483.8L138.8 483.5L139.2 483.5L139.6 483.6L140.0 483.6L140.4 483.9L140.9 482.9L141.3 483.5L141.7 483.0L142.1 483.4L142.6 483.6L143.0 483.5L143.4 483.8L143.8 483.5L144.3 482.6L144.7 483.0L145.1 483.8L145.5 483.7L146.0 483.2L146.4 482.7L146.8 483.8L147.2 482.4L147.7 483.1L148.1 483.0L148.5 483.0L148.9 482.5L149.4 482.7L149.8 483.1L150.2 482.6L150.6 482.3L151.0 482.7L151.5 482.6L151.9 482.5L152.3 482.3L152.7 482.6L153.2 482.4L153.6 482.0L154.0 482.4L154.4 482.2L154.9 482.2L155.3 481.6L155.7 481.8L156.1 482.2L156.6 482.2L157.0 482.0L157.4 481.9L157.8 482.0L158.3 482.1L158.7 482.3L159.1 481.9L159.5 481.5L160.0 481.8L160.4 481.0L160.8 481.6L161.2 481.5L161.6 481.6L162.1 481.7L162.5 481.6L162.9 481.2L163.3 481.6L163.8 481.5L164.2 481.8L164.6 482.0L165.0 481.7L165.5 482.3L165.9 482.5L166.3 482.2L166.7 482.6L167.2 482.0L167.6 482.4L168.0 483.0L168.4 482.3L168.9 482.8L169.3 482.8L169.7 483.5L170.1 483.6L170.6 483.2L171.0 483.5L171.4 482.8L171.8 483.9L172.2 483.8L172.7 484.2L173.1 483.2L173.5 484.1L173.9 483.9L174.4 483.3L174.8 484.0L175.2 484.3L175.6 484.6L176.1 484.5L176.5 484.4L176.9 484.7L177.3 484.6L177.8 484.5L178.2 484.5L178.6 484.9L179.0 484.9L179.5 485.5L179.9 484.8L180.3 485.5L180.7 485.1L181.2 485.4L181.6 484.7L182.0 484.7L182.4 484.9L182.8 485.2L183.3 485.0L183.7 485.2L184.1 485.0L184.5 485.2L185.0 484.9L185.4 484.7L185.8 485.0L186.2 484.8L186.7 485.3L187.1 484.7L187.5 484.7L187.9 484.6L188.4 485.0L188.8 484.9L189.2 484.8L189.6 484.2L190.1 484.1L190.5 484.6L190.9 484.7L191.3 484.9L191.8 483.9L192.2 484.3L192.6 483.9L193.0 484.0L193.4 484.2L193.9 484.6L194.3 484.1L194.7 484.0L195.1 484.1L195.6 484.5L196.0 484.8L196.4 483.6L196.8 484.0L197.3 483.9L197.7 484.3L198.1 484.1L198.5 484.4L199.0 483.6L199.4 483.9L199.8 483.7L200.2 483.5L200.7 483.7L201.1 483.4L201.5 484.4L201.9 483.8L202.4 483.4L202.8 483.5L203.2 484.2L203.6 483.5L204.0 483.8L204.5 483.8L204.9 483.9L205.3 483.8L205.7 483.5L206.2 483.4L206.6 483.1L207.0 483.6L207.4 483.7L207.9 483.5L208.3 483.6L208.7 483.3L209.1 484.3L209.6 483.5L210.0 483.3L210.4 483.5L210.8 483.6L211.3 483.9L211.7 482.9L212.1 483.8L212.5 483.5L213.0 483.6L213.4 484.0L213.8 483.9L214.2 483.5L214.6 483.7L215.1 484.3L215.5 484.2L215.9 484.0L216.3 483.8L216.8 484.1L217.2 483.9L217.6 483.6L218.0 483.5L218.5 484.0L218.9 484.0L219.3 484.2L219.7 483.7L220.2 484.3L220.6 483.8L221.0 484.3L221.4 484.1L221.9 483.8L222.3 483.7L222.7 484.0L223.1 484.0L223.6 484.4L224.0 483.9L224.4 483.7L224.8 484.2L225.2 484.8L225.7 484.7L226.1 484.0L226.5 484.2L226.9 484.4L227.4 484.1L227.8 484.2L228.2 484.2L228.6 484.0L229.1 484.2L229.5 484.2L229.9 484.5L230.3 484.0L230.8 484.4L231.2 484.1L231.6 484.2L232.0 484.1L232.5 485.6L232.9 484.8L233.3 484.8L233.7 484.6L234.2 484.3L234.6 484.4L235.0 484.5L235.4 484.5L235.8 484.5L236.3 484.8L236.7 483.5L237.1 484.2L237.5 484.5L238.0 484.2L238.4 484.3L238.8 484.7L239.2 484.3L239.7 484.8L240.1 484.2L240.5 484.3L240.9 483.9L241.4 483.6L241.8 484.1L242.2 484.2L242.6 484.1L243.1 483.7L243.5 484.3L243.9 484.1L244.3 484.1L244.8 483.8L245.2 484.5L245.6 484.5L246.0 484.1L246.4 483.9L246.9 484.0L247.3 484.4L247.7 484.6L248.1 483.7L248.6 483.4L249.0 482.9L249.4 484.1L249.8 482.8L250.3 483.3L250.7 483.0L251.1 483.1L251.5 482.3L252.0 481.9L252.4 482.3L252.8 482.3L253.2 482.3L253.7 481.3L254.1 481.6L254.5 481.5L254.9 481.0L255.4 481.2L255.8 481.3L256.2 480.9L256.6 480.3L257.0 480.6L257.5 480.6L257.9 480.3L258.3 480.2L258.7 479.3L259.2 479.7L259.6 479.6L260.0 479.1L260.4 479.0L260.9 478.8L261.3 479.4L261.7 478.9L262.1 478.7L262.6 479.1L263.0 479.0L263.4 479.2L263.8 478.8L264.3 478.8L264.7 479.1L265.1 479.7L265.5 477.2L266.0 474.3L266.4 477.1L266.8 478.3L267.2 473.8L267.6 478.2L268.1 473.8L268.5 477.8L268.9 478.4L269.3 475.1L269.8 477.0L270.2 476.0L270.6 469.4L271.0 472.5L271.5 470.2L271.9 468.7L272.3 471.5L272.7 467.0L273.2 473.7L273.6 469.4L274.0 477.5L274.4 474.3L274.9 470.7L275.3 471.2L275.7 470.9L276.1 473.5L276.6 468.9L277.0 470.0L277.4 466.0L277.8 464.9L278.2 466.0L278.7 467.3L279.1 465.4L279.5 474.7L279.9 475.5L280.4 470.8L280.8 463.0L281.2 473.8L281.6 466.9L282.1 477.4L282.5 474.4L282.9 460.0L283.3 459.7L283.8 460.0L284.2 467.8L284.6 474.4L285.0 468.7L285.5 467.1L285.9 466.9L286.3 470.5L286.7 467.5L287.2 460.6L287.6 460.3L288.0 456.0L288.4 455.8L288.8 459.9L289.3 457.9L289.7 467.6L290.1 462.5L290.5 467.2L291.0 462.4L291.4 460.5L291.8 458.6L292.2 455.7L292.7 459.4L293.1 452.6L293.5 454.9L293.9 458.7L294.4 458.4L294.8 461.9L295.2 462.6L295.6 458.3L296.1 462.0L296.5 459.5L296.9 454.6L297.3 451.1L297.8 457.5L298.2 453.6L298.6 456.4L299.0 457.9L299.4 457.9L299.9 456.6L300.3 456.8L300.7 459.5L301.1 453.9L301.6 449.6L302.0 458.8L302.4 456.6L302.8 454.4L303.3 458.8L303.7 455.1L304.1 459.2L304.5 453.7L305.0 457.8L305.4 454.7L305.8 453.7L306.2 462.4L306.7 455.4L307.1 455.2L307.5 454.3L307.9 458.6L308.4 457.8L308.8 453.7L309.2 462.1L309.6 455.9L310.0 456.6L310.5 462.7L310.9 459.4L311.3 454.4L311.7 453.8L312.2 454.7L312.6 463.0L313.0 465.0L313.4 451.9L313.9 467.2L314.3 460.3L314.7 457.9L315.1 459.5L315.6 464.9L316.0 467.7L316.4 451.5L316.8 454.9L317.3 469.9L317.7 456.6L318.1 457.7L318.5 471.1L319.0 470.0L319.4 468.2L319.8 465.3L320.2 464.4L320.6 469.7L321.1 465.8L321.5 458.3L321.9 477.5L322.3 467.3L322.8 467.9L323.2 476.2L323.6 470.1L324.0 478.7L324.5 463.7L324.9 479.7L325.3 465.0L325.7 482.0L326.2 478.0L326.6 469.9L327.0 483.5L327.4 483.7L327.9 470.1L328.3 479.6L328.7 478.3L329.1 468.8L329.6 489.1L330.0 472.4L330.4 490.2L330.8 478.7L331.2 477.3L331.7 489.7L332.1 476.9L332.5 488.4L332.9 476.1L333.4 487.8L333.8 476.4L334.2 491.0L334.6 484.6L335.1 481.7L335.5 494.0L335.9 489.5L336.3 482.1L336.8 488.5L337.2 487.3L337.6 481.6L338.0 492.1L338.5 490.5L338.9 482.9L339.3 494.2L339.7 486.0L340.2 483.9L340.6 497.5L341.0 480.6L341.4 493.7L341.8 489.4L342.3 485.4L342.7 496.8L343.1 494.5L343.5 494.4L344.0 486.5L344.4 494.4L344.8 488.8L345.2 484.8L345.7 485.2L346.1 499.1L346.5 487.0L346.9 498.4L347.4 495.0L347.8 501.0L348.2 489.9L348.6 487.4L349.1 493.3L349.5 487.6L349.9 499.2L350.3 487.0L350.8 504.0L351.2 501.9L351.6 486.6L352.0 497.6L352.4 499.9L352.9 493.2L353.3 488.7L353.7 502.0L354.1 495.6L354.6 504.0L355.0 492.6L355.4 504.4L355.8 499.0L356.3 492.0L356.7 495.2L357.1 499.5L357.5 498.7L358.0 494.5L358.4 490.0L358.8 497.6L359.2 504.7L359.7 492.5L360.1 500.8L360.5 496.8L360.9 494.4L361.4 503.6L361.8 497.1L362.2 488.2L362.6 505.3L363.0 487.5L363.5 498.3L363.9 497.3L364.3 491.3L364.7 503.6L365.2 491.6L365.6 503.8L366.0 504.4L366.4 486.6L366.9 501.2L367.3 489.6L367.7 491.3L368.1 486.3L368.6 496.4L369.0 485.7L369.4 502.7L369.8 488.9L370.3 493.9L370.7 502.1L371.1 483.0L371.5 499.2L372.0 491.7L372.4 492.1L372.8 482.5L373.2 496.3L373.6 482.3L374.1 483.8L374.5 498.8L374.9 496.2L375.3 484.5L375.8 499.3L376.2 483.9L376.6 483.3L377.0 489.5L377.5 486.7L377.9 481.8L378.3 492.5L378.7 478.4L379.2 497.6L379.6 481.7L380.0 491.1L380.4 475.0L380.9 496.7L381.3 486.6L381.7 476.9L382.1 493.9L382.6 474.5L383.0 483.5L383.4 471.7L383.8 495.5L384.2 477.4L384.7 480.6L385.1 492.9L385.5 492.5L385.9 470.2L386.4 487.5L386.8 479.9L387.2 476.2L387.6 470.6L388.1 490.0L388.5 470.7L388.9 486.0L389.3 489.8L389.8 489.4L390.2 485.8L390.6 475.7L391.0 480.4L391.5 470.0L391.9 479.4L392.3 470.2L392.7 479.3L393.2 485.0L393.6 476.4L394.0 484.0L394.4 483.6L394.8 470.9L395.3 481.5L395.7 474.8L396.1 476.7L396.5 475.1L397.0 475.1L397.4 475.7L397.8 476.5L398.2 476.5L398.7 475.4L399.1 469.6L399.5 475.4L399.9 479.3L400.4 480.6L400.8 475.6L401.2 480.2L401.6 480.3L402.1 472.6L402.5 477.3L402.9 468.5L403.3 470.4L403.8 465.9L404.2 479.7L404.6 480.2L405.0 476.7L405.4 473.6L405.9 475.8L406.3 477.9L406.7 472.8L407.1 470.4L407.6 476.9L408.0 470.3L408.4 475.8L408.8 477.7L409.3 474.9L409.7 478.7L410.1 466.9L410.5 472.5L411.0 473.0L411.4 468.6L411.8 478.9L412.2 476.7L412.7 481.9L413.1 475.2L413.5 483.8L413.9 479.9L414.4 476.4L414.8 467.5L415.2 470.6L415.6 466.7L416.0 480.3L416.5 481.8L416.9 484.7L417.3 479.9L417.7 472.0L418.2 478.4L418.6 466.4L419.0 467.2L419.4 475.1L419.9 481.5L420.3 482.5L420.7 475.5L421.1 470.3L421.6 470.1L422.0 473.8L422.4 488.4L422.8 468.8L423.3 456.3L423.7 463.0L424.1 471.6L424.5 482.2L425.0 489.2L425.4 471.3L425.8 472.1L426.2 476.5L426.6 489.9L427.1 459.9L427.5 459.7L427.9 475.6L428.3 462.6L428.8 483.2L429.2 481.4L429.6 469.7L430.0 482.6L430.5 480.4L430.9 483.5L431.3 485.8L431.7 487.0L432.2 466.9L432.6 484.9L433.0 476.5L433.4 469.8L433.9 492.3L434.3 492.9L434.7 462.6L435.1 474.7L435.6 484.7L436.0 484.8L436.4 489.7L436.8 495.7L437.2 459.6L437.7 467.9L438.1 496.1L438.5 485.8L438.9 477.3L439.4 471.3L439.8 476.9L440.2 471.2L440.6 488.2L441.1 454.4L441.5 497.7L441.9 496.2L442.3 496.6L442.8 491.1L443.2 475.8L443.6 451.2L444.0 451.7L444.5 494.6L444.9 489.0L445.3 483.2L445.7 494.3L446.2 453.6L446.6 494.0L447.0 473.1L447.4 489.3L447.8 490.3L448.3 490.5L448.7 483.8L449.1 452.9L449.5 480.3L450.0 488.3L450.4 461.0L450.8 490.3L451.2 488.6L451.7 485.3L452.1 494.1L452.5 470.2L452.9 485.7L453.4 484.5L453.8 470.3L454.2 480.0L454.6 492.6L455.1 465.7L455.5 479.0L455.9 483.3L456.3 481.6L456.8 483.5L457.2 470.4L457.6 493.6L458.0 496.5L458.4 490.7L458.9 466.0L459.3 470.0L459.7 472.2L460.1 492.1L460.6 491.8L461.0 470.7L461.4 491.1L461.8 466.6L462.3 473.7L462.7 500.5L463.1 473.6L463.5 481.9L464.0 476.3L464.4 489.9L464.8 469.1L465.2 467.8L465.7 500.5L466.1 477.2L466.5 487.1L466.9 484.4L467.4 469.5L467.8 470.9L468.2 488.1L468.6 493.6L469.0 493.2L469.5 474.4L469.9 472.0L470.3 469.6L470.7 484.3L471.2 475.3L471.6 471.2L472.0 486.7L472.4 491.8L472.9 491.9L473.3 492.0L473.7 486.7L474.1 467.9L474.6 469.0L475.0 474.4L475.4 491.4L475.8 489.7L476.3 478.4L476.7 485.1L477.1 490.7L477.5 469.0L478.0 478.9L478.4 509.9L478.8 475.1L479.2 467.2L479.6 486.0L480.1 485.8L480.5 503.6L480.9 492.5L481.3 458.7L481.8 438.7L482.2 466.9L482.6 529.1L483.0 533.4L483.5 506.9L483.9 463.2L484.3 434.2L484.7 506.6L485.2 498.2L485.6 501.5L486.0 457.3L486.4 433.3L486.9 467.5L487.3 511.3L487.7 515.4L488.1 540.1L488.6 510.5L489.0 503.0L489.4 460.6L489.8 428.7L490.2 430.0L490.7 467.5L491.1 506.1L491.5 534.0L491.9 513.6L492.4 499.6L492.8 421.9L493.2 477.7L493.6 554.7L494.1 473.9L494.5 458.6L494.9 499.8L495.3 503.7L495.8 545.5L496.2 489.5L496.6 481.8L497.0 435.8L497.5 446.3L497.9 493.9L498.3 502.1L498.7 542.1L499.2 473.9L499.6 499.9L500.0 462.6L500.4 508.4L500.8 476.8L501.3 473.0L501.7 538.7L502.1 474.6L502.5 466.5L503.0 496.4L503.4 510.1L503.8 526.7L504.2 502.5L504.7 478.1L505.1 463.5L505.5 445.6L505.9 482.6L506.4 503.5L506.8 504.4L507.2 463.7L507.6 494.3L508.1 502.9L508.5 493.3L508.9 489.4L509.3 465.3L509.8 472.0L510.2 504.6L510.6 481.7L511.0 467.1L511.4 463.6L511.9 495.1L512.3 515.6L512.7 505.8L513.1 467.6L513.6 472.2L514.0 464.6L514.4 501.1L514.8 500.8L515.3 448.4L515.7 460.4L516.1 477.5L516.5 525.3L517.0 508.6L517.4 509.6L517.8 530.8L518.2 478.0L518.7 445.1L519.1 458.6L519.5 447.8L519.9 523.4L520.4 519.7L520.8 524.6L521.2 506.9L521.6 467.3L522.0 467.9L522.5 467.5L522.9 473.0L523.3 465.8L523.7 493.6L524.2 502.4L524.6 493.0L525.0 500.5L525.4 472.0L525.9 469.1L526.3 478.3L526.7 471.3L527.1 478.7L527.6 493.5L528.0 501.2L528.4 432.5L528.8 468.9L529.3 468.8L529.7 474.9L530.1 493.0L530.5 491.3L531.0 464.8L531.4 488.9L531.8 500.9L532.2 505.9L532.6 495.1L533.1 450.4L533.5 452.5L533.9 452.4L534.3 505.0L534.8 509.3L535.2 503.8L535.6 492.9L536.0 472.8L536.5 478.8L536.9 462.9L537.3 462.0L537.7 491.2L538.2 507.6L538.6 479.5L539.0 450.7L539.4 510.0L539.9 458.8L540.3 475.6L540.7 491.1L541.1 493.8L541.6 457.4L542.0 502.7L542.4 445.3L542.8 518.3L543.2 433.3L543.7 506.7L544.1 429.8L544.5 475.7L544.9 488.2L545.4 479.7L545.8 510.5L546.2 448.2L546.6 514.2L547.1 458.5L547.5 444.5L547.9 486.2L548.3 503.4L548.8 421.7L549.2 506.9L549.6 519.6L550.0 416.3L550.5 517.0L550.9 515.9L551.3 442.1L551.7 512.5L552.2 437.8L552.6 507.3L553.0 461.2L553.4 436.6L553.8 522.5L554.3 440.4L554.7 395.3L555.1 495.0L555.5 512.9L556.0 444.4L556.4 441.1L556.8 522.2L557.2 479.0L557.7 407.6L558.1 522.1L558.5 508.2L558.9 414.0L559.4 504.8L559.8 484.6L560.2 504.7L560.6 417.1L561.1 522.7L561.5 426.9L561.9 517.7L562.3 432.3L562.8 519.0L563.2 464.1L563.6 461.6L564.0 441.8L564.4 521.5L564.9 426.1L565.3 483.8L565.7 520.1L566.1 428.0L566.6 507.4L567.0 491.1L567.4 464.0L567.8 483.9L568.3 491.3L568.7 442.9L569.1 505.7L569.5 456.8L570.0 453.0L570.4 479.1L570.8 499.0L571.2 451.7L571.7 446.1L572.1 512.7L572.5 476.9L572.9 431.7L573.4 513.2L573.8 450.1L574.2 484.8L574.6 458.3L575.0 471.7L575.5 493.5L575.9 463.2L576.3 439.0L576.7 508.4L577.2 447.6L577.6 482.9L578.0 478.0L578.4 476.5L578.9 491.9L579.3 454.1L579.7 440.5L580.1 504.6L580.6 438.3L581.0 496.0L581.4 455.5L581.8 486.6L582.3 472.7L582.7 497.1L583.1 487.3L583.5 456.0L584.0 450.2L584.4 478.5L584.8 466.1L585.2 454.6L585.6 493.1L586.1 484.0L586.5 455.8L586.9 494.2L587.3 459.6L587.8 474.1L588.2 473.0L588.6 463.3L589.0 476.2L589.5 453.8L589.9 491.3L590.3 487.6L590.7 484.1L591.2 484.2L591.6 459.6L592.0 452.8L592.4 495.5L592.9 492.3L593.3 455.9L593.7 497.9L594.1 457.4L594.6 497.3L595.0 485.5L595.4 462.5L595.8 451.7L596.2 487.7L596.7 488.2L597.1 498.1L597.5 491.8L597.9 465.4L598.4 458.5L598.8 482.9L599.2 470.4L599.6 463.4L600.1 499.2L600.5 472.4L600.9 492.0L601.3 490.9L601.8 458.4L602.2 462.8L602.6 504.0L603.0 463.5L603.5 491.6L603.9 448.9L604.3 503.6L604.7 475.6L605.2 501.6L605.6 459.8L606.0 469.7L606.4 457.5L606.8 494.7L607.3 474.5L607.7 509.8L608.1 461.2L608.5 451.5L609.0 503.6L609.4 498.8L609.8 459.3L610.2 456.7L610.7 508.4L611.1 456.9L611.5 496.0L611.9 507.1L612.4 500.9L612.8 451.5L613.2 485.5L613.6 471.2L614.1 472.7L614.5 478.8L614.9 458.8L615.3 507.3L615.8 451.9L616.2 502.1L616.6 464.2L617.0 497.9L617.4 477.6L617.9 497.7L618.3 493.9L618.7 461.8L619.1 458.9L619.6 504.0L620.0 444.6L620.4 495.7L620.8 447.9L621.3 505.1L621.7 493.4L622.1 469.0L622.5 506.7L623.0 461.7L623.4 495.5L623.8 492.5L624.2 474.7L624.7 453.3L625.1 492.0L625.5 465.5L625.9 510.9L626.4 509.7L626.8 476.7L627.2 466.3L627.6 492.5L628.0 500.0L628.5 460.0L628.9 465.3L629.3 462.1L629.7 461.3L630.2 508.1L630.6 498.1L631.0 507.6L631.4 470.6L631.9 476.8L632.3 483.0L632.7 479.3L633.1 467.6L633.6 502.5L634.0 479.8L634.4 483.8L634.8 494.8L635.3 475.6L635.7 479.7L636.1 492.7L636.5 485.5L637.0 496.5L637.4 473.4L637.8 473.3L638.2 486.9L638.6 493.9L639.1 470.8L639.5 499.5L639.9 479.0L640.3 463.5L640.8 482.3L641.2 490.8L641.6 493.3L642.0 480.3L642.5 478.5L642.9 500.8L643.3 454.1L643.7 500.5L644.2 485.6L644.6 499.0L645.0 468.2L645.4 462.9L645.9 468.5L646.3 486.8L646.7 483.6L647.1 506.1L647.6 488.5L648.0 496.6L648.4 497.4L648.8 469.7L649.2 472.6L649.7 476.2L650.1 465.6L650.5 494.0L650.9 496.8L651.4 497.4L651.8 484.1L652.2 517.5L652.6 469.7L653.1 478.8L653.5 466.7L653.9 470.5L654.3 471.7L654.8 475.9L655.2 474.0L655.6 497.7L656.0 507.1L656.5 489.3L656.9 507.0L657.3 488.0L657.7 465.9L658.2 469.9L658.6 499.6L659.0 504.8L659.4 481.6L659.8 503.0L660.3 488.0L660.7 482.5L661.1 480.4L661.5 503.3L662.0 502.3L662.4 472.2L662.8 463.3L663.2 509.1L663.7 491.6L664.1 485.9L664.5 503.9L664.9 459.2L665.4 474.7L665.8 512.2L666.2 491.4L666.6 501.1L667.1 485.3L667.5 454.4L667.9 499.1L668.3 505.4L668.8 486.7L669.2 461.4L669.6 492.3L670.0 506.7L670.4 486.9L670.9 505.9L671.3 489.8L671.7 476.7L672.1 473.5L672.6 485.9L673.0 502.7L673.4 471.7L673.8 508.3L674.3 484.4L674.7 476.4L675.1 504.2L675.5 505.9L676.0 475.4L676.4 501.7L676.8 482.5L677.2 470.0L677.7 494.7L678.1 491.6L678.5 487.2L678.9 495.8L679.4 497.8L679.8 508.4L680.2 465.7L680.6 486.4L681.0 470.8L681.5 507.6L681.9 491.2L682.3 473.3L682.7 503.7L683.2 475.2L683.6 485.3L684.0 496.3L684.4 507.9L684.9 455.9L685.3 506.9L685.7 482.2L686.1 503.5L686.6 478.4L687.0 459.6L687.4 501.0L687.8 472.6L688.3 486.1L688.7 492.3L689.1 489.0L689.5 481.0L690.0 476.1L690.4 468.6L690.8 485.3L691.2 473.4L691.6 471.5L692.1 491.0L692.5 485.4L692.9 472.2L693.3 469.8L693.8 468.3L694.2 487.1L694.6 477.7L695.0 485.4L695.5 483.7L695.9 473.6L696.3 466.1L696.7 487.6L697.2 478.5L697.6 472.1L698.0 471.6L698.4 487.2L698.9 487.0L699.3 484.1L699.7 467.5L700.1 477.7L700.6 477.6L701.0 472.0L701.4 473.3L701.8 464.8L702.2 475.1L702.7 487.5L703.1 487.6L703.5 472.6L703.9 478.1L704.4 472.4L704.8 483.8L705.2 476.8L705.6 468.0L706.1 466.7L706.5 463.1L706.9 486.2L707.3 488.7L707.8 476.2L708.2 485.8L708.6 468.2L709.0 483.2L709.5 463.7L709.9 472.0L710.3 483.4L710.7 485.3L711.2 481.9L711.6 464.3L712.0 481.9L712.4 467.0L712.8 475.2L713.3 485.4L713.7 466.1L714.1 470.1L714.5 485.3L715.0 476.4L715.4 484.7L715.8 467.1L716.2 466.0L716.7 466.6L717.1 468.3L717.5 474.7L717.9 481.9L718.4 484.5L718.8 475.7L719.2 469.5L719.6 483.5L720.1 465.4L720.5 475.0L720.9 469.2L721.3 476.4L721.8 465.0L722.2 475.0L722.6 479.2L723.0 479.1L723.4 464.2L723.9 473.7L724.3 472.7L724.7 474.8L725.1 472.0L725.6 466.2L726.0 479.9L726.4 463.5L726.8 464.8L727.3 478.3L727.7 468.1L728.1 464.2L728.5 456.3L729.0 481.7L729.4 457.7L729.8 459.2L730.2 481.6L730.7 481.9L731.1 472.8L731.5 465.5L731.9 457.0L732.4 450.2L732.8 455.9L733.2 459.4L733.6 476.6L734.0 479.8L734.5 460.0L734.9 484.6L735.3 452.3L735.7 484.4L736.2 457.9L736.6 450.6L737.0 456.3L737.4 466.3L737.9 476.2L738.3 477.4L738.7 468.8L739.1 483.3L739.6 465.4L740.0 464.5L740.4 471.2L740.8 461.2L741.3 464.9L741.7 463.9L742.1 485.3L742.5 453.2L743.0 450.1L743.4 464.1L743.8 471.8L744.2 466.6L744.6 483.5L745.1 466.4L745.5 468.2L745.9 459.3L746.3 479.3L746.8 463.3L747.2 470.9L747.6 453.9L748.0 457.5L748.5 460.1L748.9 471.3L749.3 473.4L749.7 485.1L750.2 467.8L750.6 485.9L751.0 461.3L751.4 476.1L751.9 465.4L752.3 475.9L752.7 462.0L753.1 472.0L753.6 473.7L754.0 483.7L754.4 481.7L754.8 480.9L755.2 480.6L755.7 479.7L756.1 468.0L756.5 481.6L756.9 480.7L757.4 473.0L757.8 484.6L758.2 482.4L758.6 469.8L759.1 478.8L759.5 472.2L759.9 482.1L760.3 488.0L760.8 475.5L761.2 486.7L761.6 479.8L762.0 478.4L762.5 482.6L762.9 491.4L763.3 478.1L763.7 479.7L764.2 472.3L764.6 484.2L765.0 474.9L765.4 479.6L765.8 490.4L766.3 483.0L766.7 492.4L767.1 480.6L767.5 473.2L768.0 491.9L768.4 472.0L768.8 494.9L769.2 482.3L769.7 487.2L770.1 475.7L770.5 483.3L770.9 486.7L771.4 478.0L771.8 484.2L772.2 480.1L772.6 491.5L773.1 492.4L773.5 493.3L773.9 494.3L774.3 488.5L774.8 483.4L775.2 486.6L775.6 482.1L776.0 479.4L776.4 487.0L776.9 491.8L777.3 478.2L777.7 490.0L778.1 492.1L778.6 486.0L779.0 499.6L779.4 499.9L779.8 499.9L780.3 480.4L780.7 489.2L781.1 483.2L781.5 482.2L782.0 499.1L782.4 488.5L782.8 494.6L783.2 486.9L783.7 499.4L784.1 501.3L784.5 485.1L784.9 500.2L785.4 488.2L785.8 490.2L786.2 492.4L786.6 495.9L787.0 494.3L787.5 494.8L787.9 489.8L788.3 493.8L788.7 492.6L789.2 491.2L789.6 492.2L790.0 501.0L790.4 490.7L790.9 492.3L791.3 493.9L791.7 488.7L792.1 491.6L792.6 493.6L793.0 499.8L793.4 499.7L793.8 491.2L794.3 490.6L794.7 491.3L795.1 486.7L795.5 493.8L796.0 497.4L796.4 500.5L796.8 491.9L797.2 490.6L797.6 493.7L798.1 495.4L798.5 492.2L798.9 484.4L799.3 491.5L799.8 483.1L800.2 496.9L800.6 487.2L801.0 495.8L801.5 487.2L801.9 497.9L802.3 488.1L802.7 495.7L803.2 490.1L803.6 481.3L804.0 481.3L804.4 494.2L804.9 482.4L805.3 493.7L805.7 487.4L806.1 490.8L806.6 489.9L807.0 476.9L807.4 481.5L807.8 482.1L808.2 491.4L808.7 489.8L809.1 493.0L809.5 479.8L809.9 482.1L810.4 476.9L810.8 480.9L811.2 491.8L811.6 476.2L812.1 488.0L812.5 486.0L812.9 481.6L813.3 487.8L813.8 491.7L814.2 476.8L814.6 477.0L815.0 484.3L815.5 490.0L815.9 491.4L816.3 488.7L816.7 480.8L817.2 479.2L817.6 476.4L818.0 490.1L818.4 475.1L818.8 473.9L819.3 479.4L819.7 483.1L820.1 484.9L820.5 486.0L821.0 470.3L821.4 478.0L821.8 469.8L822.2 477.5L822.7 470.5L823.1 481.6L823.5 475.3L823.9 471.8L824.4 476.0L824.8 467.9L825.2 476.8L825.6 475.8L826.1 472.5L826.5 471.7L826.9 470.6L827.3 474.2L827.8 470.8L828.2 479.7L828.6 465.0L829.0 464.8L829.4 479.6L829.9 479.6L830.3 463.5L830.7 468.7L831.1 474.9L831.6 473.8L832.0 476.8L832.4 463.9L832.8 469.8L833.3 461.3L833.7 468.5L834.1 479.4L834.5 459.1L835.0 464.4L835.4 473.3L835.8 478.8L836.2 467.1L836.7 464.4L837.1 457.5L837.5 468.5L837.9 475.2L838.4 463.8L838.8 459.0L839.2 460.9L839.6 462.8L840.0 477.3L840.5 452.2L840.9 476.1L841.3 472.2L841.7 465.0L842.2 473.2L842.6 453.0L843.0 456.9L843.4 451.6L843.9 472.2L844.3 458.3L844.7 452.3L845.1 462.3L845.6 466.8L846.0 468.3L846.4 454.4L846.8 460.1L847.3 460.1L847.7 457.1L848.1 454.6L848.5 459.6L849.0 459.5L849.4 453.8L849.8 461.2L850.2 459.2L850.6 464.9L851.1 456.9L851.5 466.8L851.9 467.9L852.3 457.1L852.8 467.0L853.2 461.1L853.6 468.0L854.0 459.3L854.5 463.6L854.9 465.1L855.3 466.2L855.7 469.6L856.2 468.9L856.6 465.0L857.0 461.9L857.4 469.3L857.9 465.6L858.3 463.9L858.7 468.0L859.1 467.3L859.6 462.7L860.0 464.5L860.4 469.7L860.8 463.3L861.2 468.9L861.7 465.3L862.1 463.4L862.5 464.9L862.9 461.0L863.4 471.8L863.8 467.6L864.2 460.8L864.6 470.4L865.1 468.6L865.5 464.5L865.9 475.0L866.3 469.2L866.8 459.4L867.2 469.4L867.6 460.4L868.0 467.0L868.5 475.4L868.9 473.0L869.3 468.4L869.7 474.0L870.2 469.8L870.6 482.0L871.0 475.4L871.4 464.6L871.8 471.6L872.3 459.3L872.7 463.5L873.1 464.8L873.5 471.7L874.0 482.6L874.4 468.4L874.8 482.7L875.2 476.1L875.7 470.8L876.1 468.0L876.5 474.9L876.9 473.2L877.4 460.9L877.8 476.3L878.2 467.8L878.6 472.6L879.1 460.8L879.5 475.5L879.9 471.7L880.3 473.0L880.8 472.2L881.2 475.1L881.6 474.8L882.0 474.9L882.4 481.9L882.9 465.5L883.3 468.9L883.7 464.3L884.1 465.7L884.6 475.6L885.0 472.2L885.4 469.6L885.8 482.2L886.3 479.8L886.7 481.5L887.1 472.1L887.5 479.0L888.0 475.9L888.4 467.9L888.8 467.1L889.2 477.6L889.7 467.9L890.1 481.0L890.5 481.5L890.9 483.6L891.4 480.4L891.8 479.5L892.2 475.0L892.6 470.7L893.0 470.3L893.5 479.2L893.9 479.2L894.3 483.1L894.7 477.0L895.2 471.8L895.6 485.6L896.0 485.8L896.4 481.9L896.9 473.5L897.3 474.2L897.7 473.6L898.1 480.1L898.6 477.5L899.0 486.8L899.4 486.9L899.8 482.9L900.3 487.1L900.7 480.0L901.1 478.0L901.5 477.4L902.0 481.4L902.4 489.2L902.8 477.2L903.2 481.5L903.6 483.3L904.1 487.4L904.5 488.3L904.9 489.5L905.3 486.4L905.8 485.0L906.2 478.4L906.6 478.4L907.0 492.1L907.5 482.5L907.9 478.8L908.3 487.8L908.7 491.7L909.2 478.6L909.6 494.0L910.0 488.5L910.4 485.2L910.9 478.6L911.3 492.5L911.7 484.7L912.1 485.0L912.6 484.2L913.0 488.0L913.4 496.4L913.8 487.6L914.2 490.9L914.7 487.4L915.1 484.2L915.5 486.8L915.9 486.5L916.4 497.8L916.8 488.9L917.2 488.5L917.6 489.3L918.1 491.2L918.5 491.0L918.9 488.0L919.3 497.2L919.8 497.6L920.2 490.0L920.6 496.7L921.0 489.9L921.5 492.6L921.9 484.5L922.3 489.7L922.7 496.9L923.2 496.1L923.6 493.3L924.0 503.8L924.4 504.2L924.8 501.2L925.3 490.9L925.7 488.8L926.1 485.6L926.5 485.6L927.0 501.1L927.4 502.2L927.8 504.3L928.2 506.8L928.7 503.2L929.1 491.6L929.5 494.2L929.9 489.3L930.4 497.7L930.8 494.6L931.2 502.1L931.6 497.0L932.1 504.2L932.5 502.8L932.9 490.4L933.3 493.6L933.8 490.3L934.2 497.1L934.6 501.7L935.0 502.7L935.4 498.7L935.9 493.2L936.3 497.3L936.7 496.0L937.1 496.2L937.6 492.8L938.0 497.4L938.4 495.1L938.8 497.6L939.3 500.3L939.7 499.2L940.1 495.7L940.5 491.6L941.0 494.8L941.4 498.8L941.8 501.0L942.2 496.8L942.7 501.8L943.1 490.3L943.5 490.6L943.9 497.9L944.4 493.9L944.8 497.1L945.2 496.2L945.6 494.5L946.0 492.2L946.5 491.2L946.9 492.5L947.3 496.1L947.7 492.9L948.2 497.7L948.6 493.3L949.0 486.4L949.4 489.2L949.9 486.5L950.3 489.6L950.7 490.7L951.1 485.2L951.6 488.8L952.0 487.5L952.4 488.8L952.8 485.9L953.3 492.6L953.7 492.5L954.1 485.1L954.5 485.6L955.0 484.9L955.4 487.2L955.8 479.1L956.2 486.1L956.6 489.6L957.1 482.1L957.5 490.3L957.9 482.0L958.3 480.2L958.8 479.1L959.2 482.9L959.6 488.3L960.0 486.8L960.5 480.0L960.9 478.5L961.3 487.5L961.7 482.5L962.2 479.4L962.6 479.4L963.0 477.8L963.4 481.6L963.9 485.9L964.3 486.3L964.7 485.9L965.1 483.1L965.6 480.4L966.0 482.1"/>
</g>
<line x1="260.6" y1="46.6" x2="260.6" y2="566" stroke="#ff2020" stroke-width="1.4"/>
<line x1="454" y1="46.6" x2="454" y2="566" stroke="#3030ff" stroke-width="1.7"/>
<text class="lab" transform="translate(33.9,101.3) scale(0.928,1)">GBOS</text><text class="lab" transform="translate(126.0,101.3) scale(0.935,1)">HHZ</text>
<text class="lab" transform="translate(33.9,274.9) scale(0.928,1)">GBOS</text><text class="lab" transform="translate(126.0,274.9) scale(0.935,1)">HHN</text>
<text class="lab" transform="translate(33.9,448.5) scale(0.928,1)">GBOS</text><text class="lab" transform="translate(126.0,448.5) scale(0.935,1)">HHE</text>
<line x1="32.2" y1="566.7" x2="967.7" y2="566.7" stroke="#000" stroke-width="1.4"/>
<path d="M33.55 566.7V591.2M44.15 566.7V579.2M54.75 566.7V579.2M65.35 566.7V579.2M75.95 566.7V579.2M86.55 566.7V579.2M97.15 566.7V579.2M107.75 566.7V579.2M118.35 566.7V591.2M128.95 566.7V579.2M139.55 566.7V579.2M150.15 566.7V579.2M160.75 566.7V579.2M171.35 566.7V579.2M181.95 566.7V579.2M192.55 566.7V579.2M203.15 566.7V591.2M213.75 566.7V579.2M224.35 566.7V579.2M234.95 566.7V579.2M245.55 566.7V579.2M256.15 566.7V579.2M266.75 566.7V579.2M277.35 566.7V579.2M287.95 566.7V591.2M298.55 566.7V579.2M309.15 566.7V579.2M319.75 566.7V579.2M330.35 566.7V579.2M340.95 566.7V579.2M351.55 566.7V579.2M362.15 566.7V579.2M372.75 566.7V591.2M383.35 566.7V579.2M393.95 566.7V579.2M404.55 566.7V579.2M415.15 566.7V579.2M425.75 566.7V579.2M436.35 566.7V579.2M446.95 566.7V579.2M457.55 566.7V591.2M468.15 566.7V579.2M478.75 566.7V579.2M489.35 566.7V579.2M499.95 566.7V579.2M510.55 566.7V579.2M521.15 566.7V579.2M531.75 566.7V579.2M542.35 566.7V591.2M552.95 566.7V579.2M563.55 566.7V579.2M574.15 566.7V579.2M584.75 566.7V579.2M595.35 566.7V579.2M605.95 566.7V579.2M616.55 566.7V579.2M627.15 566.7V591.2M637.75 566.7V579.2M648.35 566.7V579.2M658.95 566.7V579.2M669.55 566.7V579.2M680.15 566.7V579.2M690.75 566.7V579.2M701.35 566.7V579.2M711.95 566.7V591.2M722.55 566.7V579.2M733.15 566.7V579.2M743.75 566.7V579.2M754.35 566.7V579.2M764.95 566.7V579.2M775.55 566.7V579.2M786.15 566.7V579.2M796.75 566.7V591.2M807.35 566.7V579.2M817.95 566.7V579.2M828.55 566.7V579.2M839.15 566.7V579.2M849.75 566.7V579.2M860.35 566.7V579.2M870.95 566.7V579.2M881.55 566.7V591.2M892.15 566.7V579.2M902.75 566.7V579.2M913.35 566.7V579.2M923.95 566.7V579.2M934.55 566.7V579.2M945.15 566.7V579.2M955.75 566.7V579.2M966.35 566.7V591.2" stroke="#000" stroke-width="2.8" fill="none"/>
<g font-size="15.4"><text transform="translate(33.55,606) scale(0.922,1)" text-anchor="middle">0</text><text transform="translate(118.35,606) scale(0.922,1)" text-anchor="middle">2</text><text transform="translate(203.15,606) scale(0.922,1)" text-anchor="middle">4</text><text transform="translate(287.95,606) scale(0.922,1)" text-anchor="middle">6</text><text transform="translate(372.75,606) scale(0.922,1)" text-anchor="middle">8</text><text transform="translate(457.55,606) scale(0.922,1)" text-anchor="middle">10</text><text transform="translate(542.35,606) scale(0.922,1)" text-anchor="middle">12</text><text transform="translate(627.15,606) scale(0.922,1)" text-anchor="middle">14</text><text transform="translate(711.95,606) scale(0.922,1)" text-anchor="middle">16</text><text transform="translate(796.75,606) scale(0.922,1)" text-anchor="middle">18</text><text transform="translate(881.55,606) scale(0.922,1)" text-anchor="middle">20</text><text transform="translate(966.35,606) scale(0.922,1)" text-anchor="middle">22</text></g>
<text font-size="18.4" text-anchor="middle" transform="translate(500.4,622.8) scale(0.922,1)">Time [s]</text>
</svg>
</body></html>
